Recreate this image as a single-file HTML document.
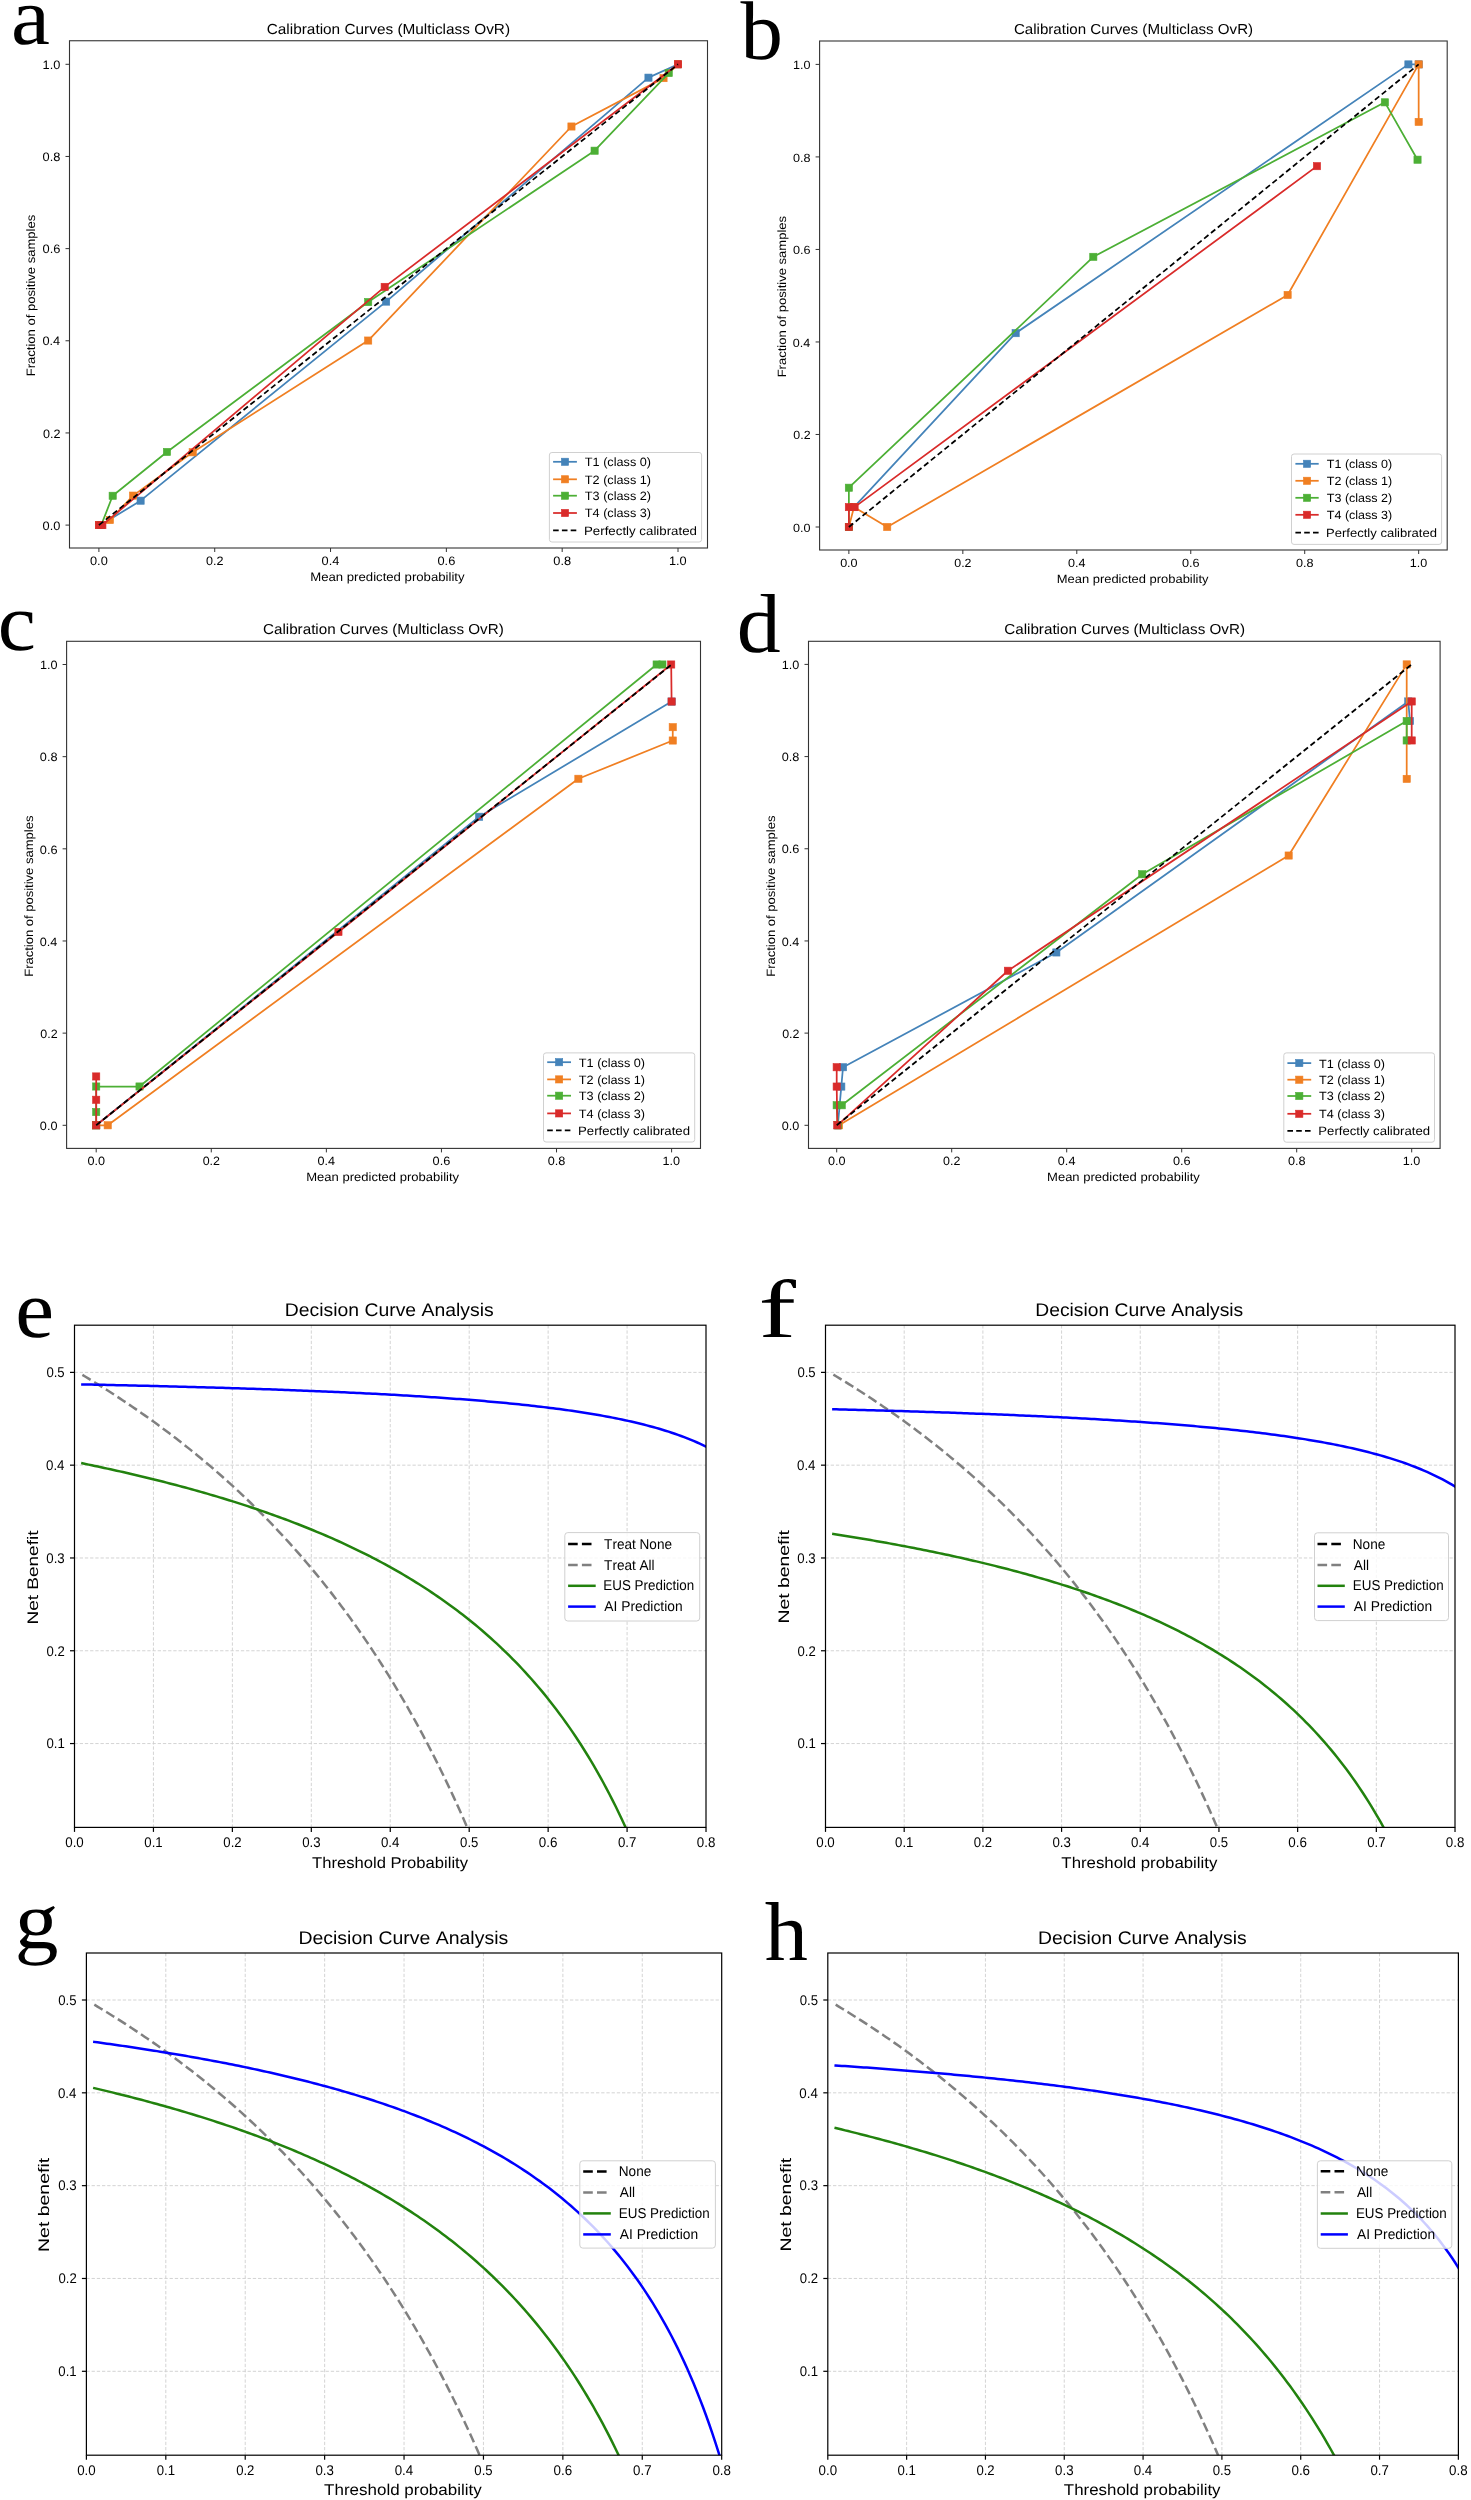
<!DOCTYPE html>
<html><head><meta charset="utf-8"><title>Calibration and Decision Curves</title>
<style>
html,body{margin:0;padding:0;background:#fff;}
body{width:1471px;height:2500px;overflow:hidden;}
svg{display:block;will-change:transform;font-family:"Liberation Sans",sans-serif;font-kerning:none;text-rendering:geometricPrecision;}
</style></head>
<body>
<svg xmlns="http://www.w3.org/2000/svg" width="1471" height="2500" viewBox="0 0 1471 2500">
<rect width="1471" height="2500" fill="#fff"/>
<defs>
<clipPath id="clipa"><rect x="69.5" y="40.75" width="638" height="507.25"/></clipPath>
<clipPath id="clipb"><rect x="819.6" y="41" width="627.6" height="509"/></clipPath>
<clipPath id="clipc"><rect x="66.6" y="641.3" width="633.9" height="507.1"/></clipPath>
<clipPath id="clipd"><rect x="808.5" y="641.3" width="631.6" height="507.1"/></clipPath>
<clipPath id="clipe"><rect x="74.5" y="1325.2" width="631.5" height="502.2"/></clipPath>
<clipPath id="clipf"><rect x="825.5" y="1325.2" width="629.5" height="502.2"/></clipPath>
<clipPath id="clipg"><rect x="86.4" y="1953" width="635.3" height="502.2"/></clipPath>
<clipPath id="cliph"><rect x="827.8" y="1953" width="630.6" height="502.2"/></clipPath>
</defs>
<g clip-path="url(#clipa)">
<polyline points="100.64,525.1 140.6,500.68 386.13,301.61 648.47,77.66 678,64.3" fill="none" stroke="#4483b9" stroke-width="1.75" stroke-linejoin="round"/>
<rect x="97.04" y="521.5" width="7.2" height="7.2" fill="#4483b9" stroke="#4483b9" stroke-width="0.6"/>
<rect x="137" y="497.08" width="7.2" height="7.2" fill="#4483b9" stroke="#4483b9" stroke-width="0.6"/>
<rect x="382.53" y="298.01" width="7.2" height="7.2" fill="#4483b9" stroke="#4483b9" stroke-width="0.6"/>
<rect x="644.87" y="74.06" width="7.2" height="7.2" fill="#4483b9" stroke="#4483b9" stroke-width="0.6"/>
<rect x="674.4" y="60.7" width="7.2" height="7.2" fill="#4483b9" stroke="#4483b9" stroke-width="0.6"/>
<polyline points="98.9,525.1 109.9,520.03 133.07,495.61 192.71,452.29 368.18,340.55 571.45,126.51 663.52,78.12 678,64.3" fill="none" stroke="#f07f22" stroke-width="1.75" stroke-linejoin="round"/>
<rect x="95.3" y="521.5" width="7.2" height="7.2" fill="#f07f22" stroke="#f07f22" stroke-width="0.6"/>
<rect x="106.3" y="516.43" width="7.2" height="7.2" fill="#f07f22" stroke="#f07f22" stroke-width="0.6"/>
<rect x="129.47" y="492.01" width="7.2" height="7.2" fill="#f07f22" stroke="#f07f22" stroke-width="0.6"/>
<rect x="189.11" y="448.69" width="7.2" height="7.2" fill="#f07f22" stroke="#f07f22" stroke-width="0.6"/>
<rect x="364.58" y="336.95" width="7.2" height="7.2" fill="#f07f22" stroke="#f07f22" stroke-width="0.6"/>
<rect x="567.85" y="122.91" width="7.2" height="7.2" fill="#f07f22" stroke="#f07f22" stroke-width="0.6"/>
<rect x="659.92" y="74.52" width="7.2" height="7.2" fill="#f07f22" stroke="#f07f22" stroke-width="0.6"/>
<rect x="674.4" y="60.7" width="7.2" height="7.2" fill="#f07f22" stroke="#f07f22" stroke-width="0.6"/>
<polyline points="101.22,525.1 112.68,495.79 166.94,451.97 368.18,302.07 594.61,150.7 668.73,73.06" fill="none" stroke="#4caf35" stroke-width="1.75" stroke-linejoin="round"/>
<rect x="97.62" y="521.5" width="7.2" height="7.2" fill="#4caf35" stroke="#4caf35" stroke-width="0.6"/>
<rect x="109.08" y="492.19" width="7.2" height="7.2" fill="#4caf35" stroke="#4caf35" stroke-width="0.6"/>
<rect x="163.34" y="448.37" width="7.2" height="7.2" fill="#4caf35" stroke="#4caf35" stroke-width="0.6"/>
<rect x="364.58" y="298.47" width="7.2" height="7.2" fill="#4caf35" stroke="#4caf35" stroke-width="0.6"/>
<rect x="591.01" y="147.1" width="7.2" height="7.2" fill="#4caf35" stroke="#4caf35" stroke-width="0.6"/>
<rect x="665.13" y="69.46" width="7.2" height="7.2" fill="#4caf35" stroke="#4caf35" stroke-width="0.6"/>
<polyline points="98.9,525.1 102.37,525.1 384.69,286.87 678,64.3" fill="none" stroke="#d92b2a" stroke-width="1.75" stroke-linejoin="round"/>
<rect x="95.3" y="521.5" width="7.2" height="7.2" fill="#d92b2a" stroke="#d92b2a" stroke-width="0.6"/>
<rect x="98.77" y="521.5" width="7.2" height="7.2" fill="#d92b2a" stroke="#d92b2a" stroke-width="0.6"/>
<rect x="381.09" y="283.27" width="7.2" height="7.2" fill="#d92b2a" stroke="#d92b2a" stroke-width="0.6"/>
<rect x="674.4" y="60.7" width="7.2" height="7.2" fill="#d92b2a" stroke="#d92b2a" stroke-width="0.6"/>
<polyline points="98.9,525.1 678,64.3" fill="none" stroke="#000" stroke-width="1.75" stroke-linejoin="round" stroke-dasharray="5.6 3.2"/>
</g>
<rect x="69.5" y="40.75" width="638" height="507.25" fill="none" stroke="#333" stroke-width="1.1"/>
<line x1="98.9" y1="548" x2="98.9" y2="552" stroke="#333" stroke-width="1"/>
<text transform="translate(90.01 564.8) scale(1.0488 1)" font-size="12.19" fill="#000">0.0</text>
<line x1="65.5" y1="525.1" x2="69.5" y2="525.1" stroke="#333" stroke-width="1"/>
<text transform="translate(42.57 529.8) scale(1.0488 1)" font-size="12.19" fill="#000">0.0</text>
<line x1="214.72" y1="548" x2="214.72" y2="552" stroke="#333" stroke-width="1"/>
<text transform="translate(206.03 564.8) scale(1.0334 1)" font-size="12.19" fill="#000">0.2</text>
<line x1="65.5" y1="432.94" x2="69.5" y2="432.94" stroke="#333" stroke-width="1"/>
<text transform="translate(42.97 437.64) scale(1.0334 1)" font-size="12.19" fill="#000">0.2</text>
<line x1="330.54" y1="548" x2="330.54" y2="552" stroke="#333" stroke-width="1"/>
<text transform="translate(321.59 564.8) scale(1.0483 1)" font-size="12.19" fill="#000">0.4</text>
<line x1="65.5" y1="340.78" x2="69.5" y2="340.78" stroke="#333" stroke-width="1"/>
<text transform="translate(42.46 345.48) scale(1.0483 1)" font-size="12.19" fill="#000">0.4</text>
<line x1="446.36" y1="548" x2="446.36" y2="552" stroke="#333" stroke-width="1"/>
<text transform="translate(437.45 564.8) scale(1.0551 1)" font-size="12.19" fill="#000">0.6</text>
<line x1="65.5" y1="248.62" x2="69.5" y2="248.62" stroke="#333" stroke-width="1"/>
<text transform="translate(42.53 253.32) scale(1.0551 1)" font-size="12.19" fill="#000">0.6</text>
<line x1="562.18" y1="548" x2="562.18" y2="552" stroke="#333" stroke-width="1"/>
<text transform="translate(553.3 564.8) scale(1.0509 1)" font-size="12.19" fill="#000">0.8</text>
<line x1="65.5" y1="156.46" x2="69.5" y2="156.46" stroke="#333" stroke-width="1"/>
<text transform="translate(42.6 161.16) scale(1.0509 1)" font-size="12.19" fill="#000">0.8</text>
<line x1="678" y1="548" x2="678" y2="552" stroke="#333" stroke-width="1"/>
<text transform="translate(668.89 564.8) scale(1.0468 1)" font-size="12.19" fill="#000">1.0</text>
<line x1="65.5" y1="64.3" x2="69.5" y2="64.3" stroke="#333" stroke-width="1"/>
<text transform="translate(42.61 69) scale(1.0468 1)" font-size="12.19" fill="#000">1.0</text>
<text transform="translate(266.72 34.2) scale(1.0506 1)" font-size="14.63" fill="#000">Calibration Curves (Multiclass OvR)</text>
<text transform="translate(310.22 580.6) scale(1.0797 1)" font-size="12.19" fill="#000">Mean predicted probability</text>
<text transform="translate(35.2 376.27) rotate(-90) scale(1.0690 1)" font-size="12.19" fill="#000">Fraction of positive samples</text>
<rect x="549.4" y="452.5" width="152.2" height="89.5" fill="#fff" stroke="#d0d0d0" stroke-width="1" rx="2.5" fill-opacity="0.8"/>
<line x1="553.1" y1="461.8" x2="576.9" y2="461.8" stroke="#4483b9" stroke-width="1.75"/>
<rect x="561.4" y="458.2" width="7.2" height="7.2" fill="#4483b9" stroke="#4483b9" stroke-width="0.6"/>
<text transform="translate(584.82 466.2) scale(1.0466 1)" font-size="12.12" fill="#000">T1 (class 0)</text>
<line x1="553.1" y1="479.3" x2="576.9" y2="479.3" stroke="#f07f22" stroke-width="1.75"/>
<rect x="561.4" y="475.7" width="7.2" height="7.2" fill="#f07f22" stroke="#f07f22" stroke-width="0.6"/>
<text transform="translate(584.82 483.7) scale(1.0466 1)" font-size="12.12" fill="#000">T2 (class 1)</text>
<line x1="553.1" y1="495.7" x2="576.9" y2="495.7" stroke="#4caf35" stroke-width="1.75"/>
<rect x="561.4" y="492.1" width="7.2" height="7.2" fill="#4caf35" stroke="#4caf35" stroke-width="0.6"/>
<text transform="translate(584.82 500.1) scale(1.0466 1)" font-size="12.12" fill="#000">T3 (class 2)</text>
<line x1="553.1" y1="513" x2="576.9" y2="513" stroke="#d92b2a" stroke-width="1.75"/>
<rect x="561.4" y="509.4" width="7.2" height="7.2" fill="#d92b2a" stroke="#d92b2a" stroke-width="0.6"/>
<text transform="translate(584.82 517.4) scale(1.0466 1)" font-size="12.12" fill="#000">T4 (class 3)</text>
<line x1="553.1" y1="530.4" x2="576.9" y2="530.4" stroke="#000" stroke-width="1.75" stroke-dasharray="5.6 3.2"/>
<text transform="translate(584.01 534.8) scale(1.0965 1)" font-size="12.12" fill="#000">Perfectly calibrated</text>
<g clip-path="url(#clipb)">
<polyline points="854,507.11 1015.65,333.17 1408.41,64.4 1418.67,64.4" fill="none" stroke="#4483b9" stroke-width="1.75" stroke-linejoin="round"/>
<rect x="850.4" y="503.51" width="7.2" height="7.2" fill="#4483b9" stroke="#4483b9" stroke-width="0.6"/>
<rect x="1012.05" y="329.57" width="7.2" height="7.2" fill="#4483b9" stroke="#4483b9" stroke-width="0.6"/>
<rect x="1404.81" y="60.8" width="7.2" height="7.2" fill="#4483b9" stroke="#4483b9" stroke-width="0.6"/>
<rect x="1415.07" y="60.8" width="7.2" height="7.2" fill="#4483b9" stroke="#4483b9" stroke-width="0.6"/>
<polyline points="848.87,527 854,507.11 887.22,527 1287.62,294.96 1418.67,64.4 1418.67,121.9" fill="none" stroke="#f07f22" stroke-width="1.75" stroke-linejoin="round"/>
<rect x="845.27" y="523.4" width="7.2" height="7.2" fill="#f07f22" stroke="#f07f22" stroke-width="0.6"/>
<rect x="850.4" y="503.51" width="7.2" height="7.2" fill="#f07f22" stroke="#f07f22" stroke-width="0.6"/>
<rect x="883.62" y="523.4" width="7.2" height="7.2" fill="#f07f22" stroke="#f07f22" stroke-width="0.6"/>
<rect x="1284.02" y="291.36" width="7.2" height="7.2" fill="#f07f22" stroke="#f07f22" stroke-width="0.6"/>
<rect x="1415.07" y="60.8" width="7.2" height="7.2" fill="#f07f22" stroke="#f07f22" stroke-width="0.6"/>
<rect x="1415.07" y="118.3" width="7.2" height="7.2" fill="#f07f22" stroke="#f07f22" stroke-width="0.6"/>
<polyline points="848.87,527 848.87,487.73 1093.31,256.84 1384.88,102.33 1417.53,159.7" fill="none" stroke="#4caf35" stroke-width="1.75" stroke-linejoin="round"/>
<rect x="845.27" y="523.4" width="7.2" height="7.2" fill="#4caf35" stroke="#4caf35" stroke-width="0.6"/>
<rect x="845.27" y="484.13" width="7.2" height="7.2" fill="#4caf35" stroke="#4caf35" stroke-width="0.6"/>
<rect x="1089.71" y="253.24" width="7.2" height="7.2" fill="#4caf35" stroke="#4caf35" stroke-width="0.6"/>
<rect x="1381.28" y="98.73" width="7.2" height="7.2" fill="#4caf35" stroke="#4caf35" stroke-width="0.6"/>
<rect x="1413.93" y="156.1" width="7.2" height="7.2" fill="#4caf35" stroke="#4caf35" stroke-width="0.6"/>
<polyline points="848.87,527 848.87,507.11 854.57,507.11 1316.96,166.17" fill="none" stroke="#d92b2a" stroke-width="1.75" stroke-linejoin="round"/>
<rect x="845.27" y="523.4" width="7.2" height="7.2" fill="#d92b2a" stroke="#d92b2a" stroke-width="0.6"/>
<rect x="845.27" y="503.51" width="7.2" height="7.2" fill="#d92b2a" stroke="#d92b2a" stroke-width="0.6"/>
<rect x="850.97" y="503.51" width="7.2" height="7.2" fill="#d92b2a" stroke="#d92b2a" stroke-width="0.6"/>
<rect x="1313.36" y="162.57" width="7.2" height="7.2" fill="#d92b2a" stroke="#d92b2a" stroke-width="0.6"/>
<polyline points="848.87,527 1418.67,64.4" fill="none" stroke="#000" stroke-width="1.75" stroke-linejoin="round" stroke-dasharray="5.6 3.2"/>
</g>
<rect x="819.6" y="41" width="627.6" height="509" fill="none" stroke="#333" stroke-width="1.1"/>
<line x1="848.87" y1="550" x2="848.87" y2="554" stroke="#333" stroke-width="1"/>
<text transform="translate(840.13 566.8) scale(1.0488 1)" font-size="11.99" fill="#000">0.0</text>
<line x1="815.6" y1="527" x2="819.6" y2="527" stroke="#333" stroke-width="1"/>
<text transform="translate(792.96 531.7) scale(1.0488 1)" font-size="11.99" fill="#000">0.0</text>
<line x1="962.83" y1="550" x2="962.83" y2="554" stroke="#333" stroke-width="1"/>
<text transform="translate(954.29 566.8) scale(1.0334 1)" font-size="11.99" fill="#000">0.2</text>
<line x1="815.6" y1="434.48" x2="819.6" y2="434.48" stroke="#333" stroke-width="1"/>
<text transform="translate(793.35 439.18) scale(1.0334 1)" font-size="11.99" fill="#000">0.2</text>
<line x1="1076.79" y1="550" x2="1076.79" y2="554" stroke="#333" stroke-width="1"/>
<text transform="translate(1067.99 566.8) scale(1.0483 1)" font-size="11.99" fill="#000">0.4</text>
<line x1="815.6" y1="341.96" x2="819.6" y2="341.96" stroke="#333" stroke-width="1"/>
<text transform="translate(792.84 346.66) scale(1.0483 1)" font-size="11.99" fill="#000">0.4</text>
<line x1="1190.75" y1="550" x2="1190.75" y2="554" stroke="#333" stroke-width="1"/>
<text transform="translate(1181.99 566.8) scale(1.0551 1)" font-size="11.99" fill="#000">0.6</text>
<line x1="815.6" y1="249.44" x2="819.6" y2="249.44" stroke="#333" stroke-width="1"/>
<text transform="translate(792.92 254.14) scale(1.0551 1)" font-size="11.99" fill="#000">0.6</text>
<line x1="1304.71" y1="550" x2="1304.71" y2="554" stroke="#333" stroke-width="1"/>
<text transform="translate(1295.98 566.8) scale(1.0509 1)" font-size="11.99" fill="#000">0.8</text>
<line x1="815.6" y1="156.92" x2="819.6" y2="156.92" stroke="#333" stroke-width="1"/>
<text transform="translate(792.98 161.62) scale(1.0509 1)" font-size="11.99" fill="#000">0.8</text>
<line x1="1418.67" y1="550" x2="1418.67" y2="554" stroke="#333" stroke-width="1"/>
<text transform="translate(1409.71 566.8) scale(1.0468 1)" font-size="11.99" fill="#000">1.0</text>
<line x1="815.6" y1="64.4" x2="819.6" y2="64.4" stroke="#333" stroke-width="1"/>
<text transform="translate(792.99 69.1) scale(1.0468 1)" font-size="11.99" fill="#000">1.0</text>
<text transform="translate(1013.93 33.9) scale(1.0506 1)" font-size="14.39" fill="#000">Calibration Curves (Multiclass OvR)</text>
<text transform="translate(1056.74 583.4) scale(1.0800 1)" font-size="11.99" fill="#000">Mean predicted probability</text>
<text transform="translate(786.2 377.37) rotate(-90) scale(1.0870 1)" font-size="11.99" fill="#000">Fraction of positive samples</text>
<rect x="1291.5" y="454" width="150.1" height="90.4" fill="#fff" stroke="#d0d0d0" stroke-width="1" rx="2.5" fill-opacity="0.8"/>
<line x1="1295.4" y1="463.8" x2="1318.7" y2="463.8" stroke="#4483b9" stroke-width="1.75"/>
<rect x="1303.45" y="460.2" width="7.2" height="7.2" fill="#4483b9" stroke="#4483b9" stroke-width="0.6"/>
<text transform="translate(1326.82 468.2) scale(1.0466 1)" font-size="11.96" fill="#000">T1 (class 0)</text>
<line x1="1295.4" y1="480.8" x2="1318.7" y2="480.8" stroke="#f07f22" stroke-width="1.75"/>
<rect x="1303.45" y="477.2" width="7.2" height="7.2" fill="#f07f22" stroke="#f07f22" stroke-width="0.6"/>
<text transform="translate(1326.82 485.2) scale(1.0466 1)" font-size="11.96" fill="#000">T2 (class 1)</text>
<line x1="1295.4" y1="497.8" x2="1318.7" y2="497.8" stroke="#4caf35" stroke-width="1.75"/>
<rect x="1303.45" y="494.2" width="7.2" height="7.2" fill="#4caf35" stroke="#4caf35" stroke-width="0.6"/>
<text transform="translate(1326.82 502.2) scale(1.0466 1)" font-size="11.96" fill="#000">T3 (class 2)</text>
<line x1="1295.4" y1="514.8" x2="1318.7" y2="514.8" stroke="#d92b2a" stroke-width="1.75"/>
<rect x="1303.45" y="511.2" width="7.2" height="7.2" fill="#d92b2a" stroke="#d92b2a" stroke-width="0.6"/>
<text transform="translate(1326.82 519.2) scale(1.0466 1)" font-size="11.96" fill="#000">T4 (class 3)</text>
<line x1="1295.4" y1="532.5" x2="1318.7" y2="532.5" stroke="#000" stroke-width="1.75" stroke-dasharray="5.6 3.2"/>
<text transform="translate(1326.03 536.9) scale(1.0909 1)" font-size="11.96" fill="#000">Perfectly calibrated</text>
<g clip-path="url(#clipc)">
<polyline points="96.2,1125.3 479.13,816.75 671.6,701.55" fill="none" stroke="#4483b9" stroke-width="1.75" stroke-linejoin="round"/>
<rect x="92.6" y="1121.7" width="7.2" height="7.2" fill="#4483b9" stroke="#4483b9" stroke-width="0.6"/>
<rect x="475.53" y="813.15" width="7.2" height="7.2" fill="#4483b9" stroke="#4483b9" stroke-width="0.6"/>
<rect x="668" y="697.95" width="7.2" height="7.2" fill="#4483b9" stroke="#4483b9" stroke-width="0.6"/>
<polyline points="96.2,1125.3 107.71,1125.3 578.39,778.78 672.75,740.53 672.75,727.17" fill="none" stroke="#f07f22" stroke-width="1.75" stroke-linejoin="round"/>
<rect x="92.6" y="1121.7" width="7.2" height="7.2" fill="#f07f22" stroke="#f07f22" stroke-width="0.6"/>
<rect x="104.11" y="1121.7" width="7.2" height="7.2" fill="#f07f22" stroke="#f07f22" stroke-width="0.6"/>
<rect x="574.79" y="775.18" width="7.2" height="7.2" fill="#f07f22" stroke="#f07f22" stroke-width="0.6"/>
<rect x="669.15" y="736.93" width="7.2" height="7.2" fill="#f07f22" stroke="#f07f22" stroke-width="0.6"/>
<rect x="669.15" y="723.57" width="7.2" height="7.2" fill="#f07f22" stroke="#f07f22" stroke-width="0.6"/>
<polyline points="96.2,1125.3 96.2,1112.03 96.2,1086.5 139.53,1086.5 656.64,664.5 662.39,664.5" fill="none" stroke="#4caf35" stroke-width="1.75" stroke-linejoin="round"/>
<rect x="92.6" y="1121.7" width="7.2" height="7.2" fill="#4caf35" stroke="#4caf35" stroke-width="0.6"/>
<rect x="92.6" y="1108.43" width="7.2" height="7.2" fill="#4caf35" stroke="#4caf35" stroke-width="0.6"/>
<rect x="92.6" y="1082.9" width="7.2" height="7.2" fill="#4caf35" stroke="#4caf35" stroke-width="0.6"/>
<rect x="135.93" y="1082.9" width="7.2" height="7.2" fill="#4caf35" stroke="#4caf35" stroke-width="0.6"/>
<rect x="653.04" y="660.9" width="7.2" height="7.2" fill="#4caf35" stroke="#4caf35" stroke-width="0.6"/>
<rect x="658.79" y="660.9" width="7.2" height="7.2" fill="#4caf35" stroke="#4caf35" stroke-width="0.6"/>
<polyline points="96.2,1076.46 96.2,1099.77 96.2,1125.3 338.44,931.95 671.2,664.5 671.6,701.55" fill="none" stroke="#d92b2a" stroke-width="1.75" stroke-linejoin="round"/>
<rect x="92.6" y="1072.86" width="7.2" height="7.2" fill="#d92b2a" stroke="#d92b2a" stroke-width="0.6"/>
<rect x="92.6" y="1096.17" width="7.2" height="7.2" fill="#d92b2a" stroke="#d92b2a" stroke-width="0.6"/>
<rect x="92.6" y="1121.7" width="7.2" height="7.2" fill="#d92b2a" stroke="#d92b2a" stroke-width="0.6"/>
<rect x="334.84" y="928.35" width="7.2" height="7.2" fill="#d92b2a" stroke="#d92b2a" stroke-width="0.6"/>
<rect x="667.6" y="660.9" width="7.2" height="7.2" fill="#d92b2a" stroke="#d92b2a" stroke-width="0.6"/>
<rect x="668" y="697.95" width="7.2" height="7.2" fill="#d92b2a" stroke="#d92b2a" stroke-width="0.6"/>
<polyline points="96.2,1125.3 671.6,664.5" fill="none" stroke="#000" stroke-width="1.75" stroke-linejoin="round" stroke-dasharray="5.6 3.2"/>
</g>
<rect x="66.6" y="641.3" width="633.9" height="507.1" fill="none" stroke="#333" stroke-width="1.1"/>
<line x1="96.2" y1="1148.4" x2="96.2" y2="1152.4" stroke="#333" stroke-width="1"/>
<text transform="translate(87.4 1165.2) scale(1.0488 1)" font-size="12.07" fill="#000">0.0</text>
<line x1="62.6" y1="1125.3" x2="66.6" y2="1125.3" stroke="#333" stroke-width="1"/>
<text transform="translate(39.85 1130) scale(1.0488 1)" font-size="12.07" fill="#000">0.0</text>
<line x1="211.28" y1="1148.4" x2="211.28" y2="1152.4" stroke="#333" stroke-width="1"/>
<text transform="translate(202.68 1165.2) scale(1.0334 1)" font-size="12.07" fill="#000">0.2</text>
<line x1="62.6" y1="1033.14" x2="66.6" y2="1033.14" stroke="#333" stroke-width="1"/>
<text transform="translate(40.24 1037.84) scale(1.0334 1)" font-size="12.07" fill="#000">0.2</text>
<line x1="326.36" y1="1148.4" x2="326.36" y2="1152.4" stroke="#333" stroke-width="1"/>
<text transform="translate(317.5 1165.2) scale(1.0483 1)" font-size="12.07" fill="#000">0.4</text>
<line x1="62.6" y1="940.98" x2="66.6" y2="940.98" stroke="#333" stroke-width="1"/>
<text transform="translate(39.73 945.68) scale(1.0483 1)" font-size="12.07" fill="#000">0.4</text>
<line x1="441.44" y1="1148.4" x2="441.44" y2="1152.4" stroke="#333" stroke-width="1"/>
<text transform="translate(432.62 1165.2) scale(1.0551 1)" font-size="12.07" fill="#000">0.6</text>
<line x1="62.6" y1="848.82" x2="66.6" y2="848.82" stroke="#333" stroke-width="1"/>
<text transform="translate(39.81 853.52) scale(1.0551 1)" font-size="12.07" fill="#000">0.6</text>
<line x1="556.52" y1="1148.4" x2="556.52" y2="1152.4" stroke="#333" stroke-width="1"/>
<text transform="translate(547.73 1165.2) scale(1.0509 1)" font-size="12.07" fill="#000">0.8</text>
<line x1="62.6" y1="756.66" x2="66.6" y2="756.66" stroke="#333" stroke-width="1"/>
<text transform="translate(39.87 761.36) scale(1.0509 1)" font-size="12.07" fill="#000">0.8</text>
<line x1="671.6" y1="1148.4" x2="671.6" y2="1152.4" stroke="#333" stroke-width="1"/>
<text transform="translate(662.58 1165.2) scale(1.0468 1)" font-size="12.07" fill="#000">1.0</text>
<line x1="62.6" y1="664.5" x2="66.6" y2="664.5" stroke="#333" stroke-width="1"/>
<text transform="translate(39.88 669.2) scale(1.0468 1)" font-size="12.07" fill="#000">1.0</text>
<text transform="translate(262.98 634.4) scale(1.0506 1)" font-size="14.48" fill="#000">Calibration Curves (Multiclass OvR)</text>
<text transform="translate(306.13 1181.4) scale(1.0815 1)" font-size="12.07" fill="#000">Mean predicted probability</text>
<text transform="translate(33 976.77) rotate(-90) scale(1.0779 1)" font-size="12.07" fill="#000">Fraction of positive samples</text>
<rect x="543.5" y="1052.9" width="151.2" height="89.1" fill="#fff" stroke="#d0d0d0" stroke-width="1" rx="2.5" fill-opacity="0.8"/>
<line x1="547.2" y1="1062.2" x2="571" y2="1062.2" stroke="#4483b9" stroke-width="1.75"/>
<rect x="555.5" y="1058.6" width="7.2" height="7.2" fill="#4483b9" stroke="#4483b9" stroke-width="0.6"/>
<text transform="translate(578.81 1066.6) scale(1.0466 1)" font-size="12.14" fill="#000">T1 (class 0)</text>
<line x1="547.2" y1="1079.4" x2="571" y2="1079.4" stroke="#f07f22" stroke-width="1.75"/>
<rect x="555.5" y="1075.8" width="7.2" height="7.2" fill="#f07f22" stroke="#f07f22" stroke-width="0.6"/>
<text transform="translate(578.81 1083.8) scale(1.0466 1)" font-size="12.14" fill="#000">T2 (class 1)</text>
<line x1="547.2" y1="1095.7" x2="571" y2="1095.7" stroke="#4caf35" stroke-width="1.75"/>
<rect x="555.5" y="1092.1" width="7.2" height="7.2" fill="#4caf35" stroke="#4caf35" stroke-width="0.6"/>
<text transform="translate(578.81 1100.1) scale(1.0466 1)" font-size="12.14" fill="#000">T3 (class 2)</text>
<line x1="547.2" y1="1113.4" x2="571" y2="1113.4" stroke="#d92b2a" stroke-width="1.75"/>
<rect x="555.5" y="1109.8" width="7.2" height="7.2" fill="#d92b2a" stroke="#d92b2a" stroke-width="0.6"/>
<text transform="translate(578.81 1117.8) scale(1.0466 1)" font-size="12.14" fill="#000">T4 (class 3)</text>
<line x1="547.2" y1="1130.4" x2="571" y2="1130.4" stroke="#000" stroke-width="1.75" stroke-dasharray="5.6 3.2"/>
<text transform="translate(578.02 1134.8) scale(1.0860 1)" font-size="12.14" fill="#000">Perfectly calibrated</text>
<g clip-path="url(#clipd)">
<polyline points="837.85,1125.3 841.3,1086.58 843.03,1067.23 1056.35,952.46 1408.25,701.46 1409.97,721.09" fill="none" stroke="#4483b9" stroke-width="1.75" stroke-linejoin="round"/>
<rect x="834.25" y="1121.7" width="7.2" height="7.2" fill="#4483b9" stroke="#4483b9" stroke-width="0.6"/>
<rect x="837.7" y="1082.98" width="7.2" height="7.2" fill="#4483b9" stroke="#4483b9" stroke-width="0.6"/>
<rect x="839.43" y="1063.63" width="7.2" height="7.2" fill="#4483b9" stroke="#4483b9" stroke-width="0.6"/>
<rect x="1052.75" y="948.86" width="7.2" height="7.2" fill="#4483b9" stroke="#4483b9" stroke-width="0.6"/>
<rect x="1404.65" y="697.86" width="7.2" height="7.2" fill="#4483b9" stroke="#4483b9" stroke-width="0.6"/>
<rect x="1406.38" y="717.49" width="7.2" height="7.2" fill="#4483b9" stroke="#4483b9" stroke-width="0.6"/>
<polyline points="839,1125.3 1288.65,855.54 1406.7,664.4 1406.7,778.89" fill="none" stroke="#f07f22" stroke-width="1.75" stroke-linejoin="round"/>
<rect x="835.4" y="1121.7" width="7.2" height="7.2" fill="#f07f22" stroke="#f07f22" stroke-width="0.6"/>
<rect x="1285.05" y="851.94" width="7.2" height="7.2" fill="#f07f22" stroke="#f07f22" stroke-width="0.6"/>
<rect x="1403.1" y="660.8" width="7.2" height="7.2" fill="#f07f22" stroke="#f07f22" stroke-width="0.6"/>
<rect x="1403.1" y="775.29" width="7.2" height="7.2" fill="#f07f22" stroke="#f07f22" stroke-width="0.6"/>
<polyline points="837.85,1125.3 836.7,1105.25 841.7,1105.25 1142.26,874.29 1406.7,721.09 1406.7,740.45" fill="none" stroke="#4caf35" stroke-width="1.75" stroke-linejoin="round"/>
<rect x="834.25" y="1121.7" width="7.2" height="7.2" fill="#4caf35" stroke="#4caf35" stroke-width="0.6"/>
<rect x="833.1" y="1101.65" width="7.2" height="7.2" fill="#4caf35" stroke="#4caf35" stroke-width="0.6"/>
<rect x="838.1" y="1101.65" width="7.2" height="7.2" fill="#4caf35" stroke="#4caf35" stroke-width="0.6"/>
<rect x="1138.66" y="870.69" width="7.2" height="7.2" fill="#4caf35" stroke="#4caf35" stroke-width="0.6"/>
<rect x="1403.1" y="717.49" width="7.2" height="7.2" fill="#4caf35" stroke="#4caf35" stroke-width="0.6"/>
<rect x="1403.1" y="736.85" width="7.2" height="7.2" fill="#4caf35" stroke="#4caf35" stroke-width="0.6"/>
<polyline points="836.7,1067.23 836.7,1086.58 837.28,1125.3 1007.94,970.76 1411.7,701.46 1411.7,740.45" fill="none" stroke="#d92b2a" stroke-width="1.75" stroke-linejoin="round"/>
<rect x="833.1" y="1063.63" width="7.2" height="7.2" fill="#d92b2a" stroke="#d92b2a" stroke-width="0.6"/>
<rect x="833.1" y="1082.98" width="7.2" height="7.2" fill="#d92b2a" stroke="#d92b2a" stroke-width="0.6"/>
<rect x="833.68" y="1121.7" width="7.2" height="7.2" fill="#d92b2a" stroke="#d92b2a" stroke-width="0.6"/>
<rect x="1004.34" y="967.16" width="7.2" height="7.2" fill="#d92b2a" stroke="#d92b2a" stroke-width="0.6"/>
<rect x="1408.1" y="697.86" width="7.2" height="7.2" fill="#d92b2a" stroke="#d92b2a" stroke-width="0.6"/>
<rect x="1408.1" y="736.85" width="7.2" height="7.2" fill="#d92b2a" stroke="#d92b2a" stroke-width="0.6"/>
<polyline points="836.7,1125.3 1411.7,664.4" fill="none" stroke="#000" stroke-width="1.75" stroke-linejoin="round" stroke-dasharray="5.6 3.2"/>
</g>
<rect x="808.5" y="641.3" width="631.6" height="507.1" fill="none" stroke="#333" stroke-width="1.1"/>
<line x1="836.7" y1="1148.4" x2="836.7" y2="1152.4" stroke="#333" stroke-width="1"/>
<text transform="translate(827.9 1165.2) scale(1.0488 1)" font-size="12.07" fill="#000">0.0</text>
<line x1="804.5" y1="1125.3" x2="808.5" y2="1125.3" stroke="#333" stroke-width="1"/>
<text transform="translate(781.75 1130) scale(1.0488 1)" font-size="12.07" fill="#000">0.0</text>
<line x1="951.7" y1="1148.4" x2="951.7" y2="1152.4" stroke="#333" stroke-width="1"/>
<text transform="translate(943.1 1165.2) scale(1.0334 1)" font-size="12.07" fill="#000">0.2</text>
<line x1="804.5" y1="1033.12" x2="808.5" y2="1033.12" stroke="#333" stroke-width="1"/>
<text transform="translate(782.14 1037.82) scale(1.0334 1)" font-size="12.07" fill="#000">0.2</text>
<line x1="1066.7" y1="1148.4" x2="1066.7" y2="1152.4" stroke="#333" stroke-width="1"/>
<text transform="translate(1057.84 1165.2) scale(1.0483 1)" font-size="12.07" fill="#000">0.4</text>
<line x1="804.5" y1="940.94" x2="808.5" y2="940.94" stroke="#333" stroke-width="1"/>
<text transform="translate(781.63 945.64) scale(1.0483 1)" font-size="12.07" fill="#000">0.4</text>
<line x1="1181.7" y1="1148.4" x2="1181.7" y2="1152.4" stroke="#333" stroke-width="1"/>
<text transform="translate(1172.88 1165.2) scale(1.0551 1)" font-size="12.07" fill="#000">0.6</text>
<line x1="804.5" y1="848.76" x2="808.5" y2="848.76" stroke="#333" stroke-width="1"/>
<text transform="translate(781.71 853.46) scale(1.0551 1)" font-size="12.07" fill="#000">0.6</text>
<line x1="1296.7" y1="1148.4" x2="1296.7" y2="1152.4" stroke="#333" stroke-width="1"/>
<text transform="translate(1287.91 1165.2) scale(1.0509 1)" font-size="12.07" fill="#000">0.8</text>
<line x1="804.5" y1="756.58" x2="808.5" y2="756.58" stroke="#333" stroke-width="1"/>
<text transform="translate(781.77 761.28) scale(1.0509 1)" font-size="12.07" fill="#000">0.8</text>
<line x1="1411.7" y1="1148.4" x2="1411.7" y2="1152.4" stroke="#333" stroke-width="1"/>
<text transform="translate(1402.68 1165.2) scale(1.0468 1)" font-size="12.07" fill="#000">1.0</text>
<line x1="804.5" y1="664.4" x2="808.5" y2="664.4" stroke="#333" stroke-width="1"/>
<text transform="translate(781.78 669.1) scale(1.0468 1)" font-size="12.07" fill="#000">1.0</text>
<text transform="translate(1004.23 634.3) scale(1.0506 1)" font-size="14.48" fill="#000">Calibration Curves (Multiclass OvR)</text>
<text transform="translate(1047.03 1181.4) scale(1.0801 1)" font-size="12.07" fill="#000">Mean predicted probability</text>
<text transform="translate(775.2 976.77) rotate(-90) scale(1.0779 1)" font-size="12.07" fill="#000">Fraction of positive samples</text>
<rect x="1283.8" y="1052.9" width="150.7" height="89.3" fill="#fff" stroke="#d0d0d0" stroke-width="1" rx="2.5" fill-opacity="0.8"/>
<line x1="1287.4" y1="1063.1" x2="1311.2" y2="1063.1" stroke="#4483b9" stroke-width="1.75"/>
<rect x="1295.7" y="1059.5" width="7.2" height="7.2" fill="#4483b9" stroke="#4483b9" stroke-width="0.6"/>
<text transform="translate(1319.12 1067.5) scale(1.0466 1)" font-size="12.05" fill="#000">T1 (class 0)</text>
<line x1="1287.4" y1="1079.7" x2="1311.2" y2="1079.7" stroke="#f07f22" stroke-width="1.75"/>
<rect x="1295.7" y="1076.1" width="7.2" height="7.2" fill="#f07f22" stroke="#f07f22" stroke-width="0.6"/>
<text transform="translate(1319.12 1084.1) scale(1.0466 1)" font-size="12.05" fill="#000">T2 (class 1)</text>
<line x1="1287.4" y1="1096" x2="1311.2" y2="1096" stroke="#4caf35" stroke-width="1.75"/>
<rect x="1295.7" y="1092.4" width="7.2" height="7.2" fill="#4caf35" stroke="#4caf35" stroke-width="0.6"/>
<text transform="translate(1319.12 1100.4) scale(1.0466 1)" font-size="12.05" fill="#000">T3 (class 2)</text>
<line x1="1287.4" y1="1113.8" x2="1311.2" y2="1113.8" stroke="#d92b2a" stroke-width="1.75"/>
<rect x="1295.7" y="1110.2" width="7.2" height="7.2" fill="#d92b2a" stroke="#d92b2a" stroke-width="0.6"/>
<text transform="translate(1319.12 1118.2) scale(1.0466 1)" font-size="12.05" fill="#000">T4 (class 3)</text>
<line x1="1287.4" y1="1130.8" x2="1311.2" y2="1130.8" stroke="#000" stroke-width="1.75" stroke-dasharray="5.6 3.2"/>
<text transform="translate(1318.32 1135.2) scale(1.0904 1)" font-size="12.05" fill="#000">Perfectly calibrated</text>
<line x1="153.44" y1="1325.2" x2="153.44" y2="1827.4" stroke="#cfcfcf" stroke-width="0.9" stroke-dasharray="3.3 1.9"/>
<line x1="232.38" y1="1325.2" x2="232.38" y2="1827.4" stroke="#cfcfcf" stroke-width="0.9" stroke-dasharray="3.3 1.9"/>
<line x1="311.32" y1="1325.2" x2="311.32" y2="1827.4" stroke="#cfcfcf" stroke-width="0.9" stroke-dasharray="3.3 1.9"/>
<line x1="390.26" y1="1325.2" x2="390.26" y2="1827.4" stroke="#cfcfcf" stroke-width="0.9" stroke-dasharray="3.3 1.9"/>
<line x1="469.2" y1="1325.2" x2="469.2" y2="1827.4" stroke="#cfcfcf" stroke-width="0.9" stroke-dasharray="3.3 1.9"/>
<line x1="548.14" y1="1325.2" x2="548.14" y2="1827.4" stroke="#cfcfcf" stroke-width="0.9" stroke-dasharray="3.3 1.9"/>
<line x1="627.08" y1="1325.2" x2="627.08" y2="1827.4" stroke="#cfcfcf" stroke-width="0.9" stroke-dasharray="3.3 1.9"/>
<line x1="74.5" y1="1743.56" x2="706" y2="1743.56" stroke="#cfcfcf" stroke-width="0.9" stroke-dasharray="3.3 1.9"/>
<line x1="74.5" y1="1650.76" x2="706" y2="1650.76" stroke="#cfcfcf" stroke-width="0.9" stroke-dasharray="3.3 1.9"/>
<line x1="74.5" y1="1557.97" x2="706" y2="1557.97" stroke="#cfcfcf" stroke-width="0.9" stroke-dasharray="3.3 1.9"/>
<line x1="74.5" y1="1465.17" x2="706" y2="1465.17" stroke="#cfcfcf" stroke-width="0.9" stroke-dasharray="3.3 1.9"/>
<line x1="74.5" y1="1372.38" x2="706" y2="1372.38" stroke="#cfcfcf" stroke-width="0.9" stroke-dasharray="3.3 1.9"/>
<g clip-path="url(#clipe)">
<polyline points="82.39,1374.91 85.51,1376.78 88.63,1378.66 91.75,1380.56 94.87,1382.48 97.98,1384.41 101.1,1386.35 104.22,1388.31 107.34,1390.29 110.46,1392.29 113.58,1394.3 116.69,1396.33 119.81,1398.37 122.93,1400.43 126.05,1402.51 129.17,1404.61 132.28,1406.72 135.4,1408.86 138.52,1411.01 141.64,1413.18 144.76,1415.37 147.87,1417.57 150.99,1419.8 154.11,1422.05 157.23,1424.31 160.35,1426.6 163.47,1428.91 166.58,1431.23 169.7,1433.58 172.82,1435.95 175.94,1438.34 179.06,1440.76 182.17,1443.19 185.29,1445.65 188.41,1448.13 191.53,1450.63 194.65,1453.16 197.76,1455.71 200.88,1458.28 204,1460.88 207.12,1463.5 210.24,1466.15 213.36,1468.82 216.47,1471.52 219.59,1474.25 222.71,1477 225.83,1479.78 228.95,1482.58 232.06,1485.42 235.18,1488.28 238.3,1491.17 241.42,1494.09 244.54,1497.04 247.65,1500.02 250.77,1503.02 253.89,1506.06 257.01,1509.13 260.13,1512.24 263.25,1515.37 266.36,1518.54 269.48,1521.74 272.6,1524.97 275.72,1528.24 278.84,1531.55 281.95,1534.88 285.07,1538.26 288.19,1541.67 291.31,1545.12 294.43,1548.61 297.54,1552.13 300.66,1555.69 303.78,1559.3 306.9,1562.94 310.02,1566.63 313.14,1570.35 316.25,1574.12 319.37,1577.93 322.49,1581.79 325.61,1585.69 328.73,1589.64 331.84,1593.63 334.96,1597.67 338.08,1601.76 341.2,1605.89 344.32,1610.08 347.44,1614.31 350.55,1618.6 353.67,1622.94 356.79,1627.34 359.91,1631.78 363.03,1636.29 366.14,1640.85 369.26,1645.46 372.38,1650.14 375.5,1654.87 378.62,1659.67 381.73,1664.53 384.85,1669.45 387.97,1674.44 391.09,1679.49 394.21,1684.61 397.33,1689.8 400.44,1695.05 403.56,1700.38 406.68,1705.78 409.8,1711.26 412.92,1716.81 416.03,1722.44 419.15,1728.14 422.27,1733.93 425.39,1739.8 428.51,1745.76 431.62,1751.8 434.74,1757.92 437.86,1764.14 440.98,1770.45 444.1,1776.85 447.22,1783.35 450.33,1789.95 453.45,1796.65 456.57,1803.45 459.69,1810.35 462.81,1817.36 465.92,1824.48 469.04,1831.72 472.16,1839.07 475.28,1846.53 478.4,1854.12 481.51,1861.83 484.63,1869.67 487.75,1877.64" fill="none" stroke="#808080" stroke-width="2.5" stroke-linejoin="round" stroke-dasharray="9.6 4.2"/>
<polyline points="82.39,1463.34 85.51,1463.98 88.63,1464.62 91.75,1465.27 94.87,1465.93 97.98,1466.59 101.1,1467.26 104.22,1467.93 107.34,1468.61 110.46,1469.29 113.58,1469.98 116.69,1470.67 119.81,1471.37 122.93,1472.08 126.05,1472.79 129.17,1473.51 132.28,1474.23 135.4,1474.96 138.52,1475.7 141.64,1476.44 144.76,1477.19 147.87,1477.95 150.99,1478.71 154.11,1479.48 157.23,1480.25 160.35,1481.04 163.47,1481.83 166.58,1482.62 169.7,1483.43 172.82,1484.24 175.94,1485.06 179.06,1485.88 182.17,1486.72 185.29,1487.56 188.41,1488.41 191.53,1489.26 194.65,1490.13 197.76,1491 200.88,1491.88 204,1492.77 207.12,1493.67 210.24,1494.58 213.36,1495.49 216.47,1496.42 219.59,1497.35 222.71,1498.29 225.83,1499.24 228.95,1500.2 232.06,1501.17 235.18,1502.15 238.3,1503.14 241.42,1504.14 244.54,1505.15 247.65,1506.17 250.77,1507.2 253.89,1508.24 257.01,1509.29 260.13,1510.36 263.25,1511.43 266.36,1512.51 269.48,1513.61 272.6,1514.72 275.72,1515.84 278.84,1516.97 281.95,1518.11 285.07,1519.27 288.19,1520.43 291.31,1521.61 294.43,1522.81 297.54,1524.01 300.66,1525.23 303.78,1526.47 306.9,1527.72 310.02,1528.98 313.14,1530.25 316.25,1531.54 319.37,1532.85 322.49,1534.17 325.61,1535.5 328.73,1536.86 331.84,1538.22 334.96,1539.61 338.08,1541 341.2,1542.42 344.32,1543.85 347.44,1545.3 350.55,1546.77 353.67,1548.26 356.79,1549.76 359.91,1551.29 363.03,1552.83 366.14,1554.39 369.26,1555.97 372.38,1557.57 375.5,1559.19 378.62,1560.83 381.73,1562.5 384.85,1564.18 387.97,1565.89 391.09,1567.62 394.21,1569.37 397.33,1571.15 400.44,1572.95 403.56,1574.77 406.68,1576.62 409.8,1578.5 412.92,1580.4 416.03,1582.32 419.15,1584.28 422.27,1586.26 425.39,1588.27 428.51,1590.31 431.62,1592.37 434.74,1594.47 437.86,1596.6 440.98,1598.76 444.1,1600.95 447.22,1603.18 450.33,1605.44 453.45,1607.73 456.57,1610.06 459.69,1612.42 462.81,1614.82 465.92,1617.26 469.04,1619.74 472.16,1622.25 475.28,1624.81 478.4,1627.41 481.51,1630.05 484.63,1632.73 487.75,1635.46 490.87,1638.23 493.99,1641.06 497.11,1643.92 500.22,1646.84 503.34,1649.81 506.46,1652.83 509.58,1655.9 512.7,1659.03 515.81,1662.21 518.93,1665.46 522.05,1668.76 525.17,1672.12 528.29,1675.54 531.4,1679.03 534.52,1682.58 537.64,1686.2 540.76,1689.9 543.88,1693.66 547,1697.5 550.11,1701.41 553.23,1705.4 556.35,1709.48 559.47,1713.63 562.59,1717.88 565.7,1722.21 568.82,1726.63 571.94,1731.15 575.06,1735.77 578.18,1740.48 581.29,1745.3 584.41,1750.23 587.53,1755.27 590.65,1760.42 593.77,1765.7 596.89,1771.09 600,1776.62 603.12,1782.27 606.24,1788.06 609.36,1794 612.48,1800.08 615.59,1806.31 618.71,1812.71 621.83,1819.26 624.95,1825.99 628.07,1832.9 631.18,1839.99 634.3,1847.28 637.42,1854.76 640.54,1862.46 643.66,1870.37 646.78,1878.51" fill="none" stroke="#22820e" stroke-width="2.5" stroke-linejoin="round" stroke-linecap="square"/>
<polyline points="82.39,1384.42 85.51,1384.48 88.63,1384.54 91.75,1384.61 94.87,1384.67 97.98,1384.74 101.1,1384.8 104.22,1384.87 107.34,1384.93 110.46,1385 113.58,1385.07 116.69,1385.14 119.81,1385.21 122.93,1385.28 126.05,1385.35 129.17,1385.42 132.28,1385.49 135.4,1385.56 138.52,1385.63 141.64,1385.71 144.76,1385.78 147.87,1385.86 150.99,1385.93 154.11,1386.01 157.23,1386.08 160.35,1386.16 163.47,1386.24 166.58,1386.32 169.7,1386.4 172.82,1386.48 175.94,1386.56 179.06,1386.64 182.17,1386.72 185.29,1386.8 188.41,1386.89 191.53,1386.97 194.65,1387.06 197.76,1387.14 200.88,1387.23 204,1387.32 207.12,1387.41 210.24,1387.5 213.36,1387.59 216.47,1387.68 219.59,1387.77 222.71,1387.86 225.83,1387.96 228.95,1388.05 232.06,1388.15 235.18,1388.24 238.3,1388.34 241.42,1388.44 244.54,1388.54 247.65,1388.64 250.77,1388.74 253.89,1388.84 257.01,1388.95 260.13,1389.05 263.25,1389.16 266.36,1389.26 269.48,1389.37 272.6,1389.48 275.72,1389.59 278.84,1389.7 281.95,1389.82 285.07,1389.93 288.19,1390.04 291.31,1390.16 294.43,1390.28 297.54,1390.4 300.66,1390.52 303.78,1390.64 306.9,1390.76 310.02,1390.89 313.14,1391.01 316.25,1391.14 319.37,1391.27 322.49,1391.4 325.61,1391.53 328.73,1391.66 331.84,1391.8 334.96,1391.93 338.08,1392.07 341.2,1392.21 344.32,1392.35 347.44,1392.5 350.55,1392.64 353.67,1392.79 356.79,1392.94 359.91,1393.09 363.03,1393.24 366.14,1393.39 369.26,1393.55 372.38,1393.71 375.5,1393.87 378.62,1394.03 381.73,1394.19 384.85,1394.36 387.97,1394.53 391.09,1394.7 394.21,1394.87 397.33,1395.04 400.44,1395.22 403.56,1395.4 406.68,1395.58 409.8,1395.77 412.92,1395.96 416.03,1396.15 419.15,1396.34 422.27,1396.53 425.39,1396.73 428.51,1396.93 431.62,1397.14 434.74,1397.34 437.86,1397.55 440.98,1397.77 444.1,1397.98 447.22,1398.2 450.33,1398.42 453.45,1398.65 456.57,1398.88 459.69,1399.11 462.81,1399.35 465.92,1399.59 469.04,1399.83 472.16,1400.08 475.28,1400.33 478.4,1400.59 481.51,1400.85 484.63,1401.12 487.75,1401.39 490.87,1401.66 493.99,1401.94 497.11,1402.22 500.22,1402.51 503.34,1402.8 506.46,1403.1 509.58,1403.4 512.7,1403.71 515.81,1404.02 518.93,1404.34 522.05,1404.67 525.17,1405 528.29,1405.34 531.4,1405.68 534.52,1406.03 537.64,1406.39 540.76,1406.75 543.88,1407.12 547,1407.5 550.11,1407.89 553.23,1408.28 556.35,1408.68 559.47,1409.09 562.59,1409.51 565.7,1409.94 568.82,1410.37 571.94,1410.82 575.06,1411.27 578.18,1411.74 581.29,1412.21 584.41,1412.7 587.53,1413.2 590.65,1413.71 593.77,1414.23 596.89,1414.76 600,1415.3 603.12,1415.86 606.24,1416.43 609.36,1417.02 612.48,1417.62 615.59,1418.23 618.71,1418.86 621.83,1419.51 624.95,1420.17 628.07,1420.85 631.18,1421.55 634.3,1422.27 637.42,1423.01 640.54,1423.76 643.66,1424.54 646.78,1425.35 649.89,1426.17 653.01,1427.02 656.13,1427.9 659.25,1428.8 662.37,1429.73 665.48,1430.69 668.6,1431.68 671.72,1432.7 674.84,1433.76 677.96,1434.85 681.07,1435.98 684.19,1437.15 687.31,1438.36 690.43,1439.61 693.55,1440.91 696.67,1442.26 699.78,1443.65 702.9,1445.11 706.02,1446.62" fill="none" stroke="#0000ff" stroke-width="2.5" stroke-linejoin="round" stroke-linecap="square"/>
</g>
<rect x="74.5" y="1325.2" width="631.5" height="502.2" fill="none" stroke="#000" stroke-width="1.2"/>
<line x1="74.5" y1="1827.4" x2="74.5" y2="1831.9" stroke="#000" stroke-width="1.2"/>
<text transform="translate(65.23 1846.9) scale(0.9458 1)" font-size="14.1" fill="#000">0.0</text>
<line x1="153.44" y1="1827.4" x2="153.44" y2="1831.9" stroke="#000" stroke-width="1.2"/>
<text transform="translate(144.33 1846.9) scale(0.9360 1)" font-size="14.1" fill="#000">0.1</text>
<line x1="232.38" y1="1827.4" x2="232.38" y2="1831.9" stroke="#000" stroke-width="1.2"/>
<text transform="translate(223.32 1846.9) scale(0.9320 1)" font-size="14.1" fill="#000">0.2</text>
<line x1="311.32" y1="1827.4" x2="311.32" y2="1831.9" stroke="#000" stroke-width="1.2"/>
<text transform="translate(302.14 1846.9) scale(0.9405 1)" font-size="14.1" fill="#000">0.3</text>
<line x1="390.26" y1="1827.4" x2="390.26" y2="1831.9" stroke="#000" stroke-width="1.2"/>
<text transform="translate(380.93 1846.9) scale(0.9454 1)" font-size="14.1" fill="#000">0.4</text>
<line x1="469.2" y1="1827.4" x2="469.2" y2="1831.9" stroke="#000" stroke-width="1.2"/>
<text transform="translate(460.06 1846.9) scale(0.9343 1)" font-size="14.1" fill="#000">0.5</text>
<line x1="548.14" y1="1827.4" x2="548.14" y2="1831.9" stroke="#000" stroke-width="1.2"/>
<text transform="translate(538.85 1846.9) scale(0.9516 1)" font-size="14.1" fill="#000">0.6</text>
<line x1="627.08" y1="1827.4" x2="627.08" y2="1831.9" stroke="#000" stroke-width="1.2"/>
<text transform="translate(617.93 1846.9) scale(0.9415 1)" font-size="14.1" fill="#000">0.7</text>
<line x1="706.02" y1="1827.4" x2="706.02" y2="1831.9" stroke="#000" stroke-width="1.2"/>
<text transform="translate(696.76 1846.9) scale(0.9477 1)" font-size="14.1" fill="#000">0.8</text>
<line x1="70" y1="1743.56" x2="74.5" y2="1743.56" stroke="#000" stroke-width="1.2"/>
<text transform="translate(46.45 1748.36) scale(0.9360 1)" font-size="14.1" fill="#000">0.1</text>
<line x1="70" y1="1650.76" x2="74.5" y2="1650.76" stroke="#000" stroke-width="1.2"/>
<text transform="translate(46.54 1655.56) scale(0.9320 1)" font-size="14.1" fill="#000">0.2</text>
<line x1="70" y1="1557.97" x2="74.5" y2="1557.97" stroke="#000" stroke-width="1.2"/>
<text transform="translate(46.3 1562.77) scale(0.9405 1)" font-size="14.1" fill="#000">0.3</text>
<line x1="70" y1="1465.17" x2="74.5" y2="1465.17" stroke="#000" stroke-width="1.2"/>
<text transform="translate(46.01 1469.97) scale(0.9454 1)" font-size="14.1" fill="#000">0.4</text>
<line x1="70" y1="1372.38" x2="74.5" y2="1372.38" stroke="#000" stroke-width="1.2"/>
<text transform="translate(46.39 1377.18) scale(0.9343 1)" font-size="14.1" fill="#000">0.5</text>
<text transform="translate(284.71 1316.4) scale(1.0594 1)" font-size="18.31" fill="#000">Decision Curve Analysis</text>
<text transform="translate(312.03 1867.6) scale(1.0586 1)" font-size="15.7" fill="#000">Threshold Probability</text>
<text transform="translate(37.5 1624.56) rotate(-90) scale(1.2463 1)" font-size="15.26" fill="#000">Net Benefit</text>
<rect x="564.8" y="1532.6" width="134.9" height="88.4" fill="#fff" stroke="#d0d0d0" stroke-width="1" rx="3" fill-opacity="0.8"/>
<line x1="568.1" y1="1543.9" x2="595.7" y2="1543.9" stroke="#000" stroke-width="2.5" stroke-dasharray="9.6 4.2"/>
<text transform="translate(604.09 1548.5) scale(0.9534 1)" font-size="14.24" fill="#000">Treat None</text>
<line x1="568.1" y1="1564.9" x2="595.7" y2="1564.9" stroke="#808080" stroke-width="2.5" stroke-dasharray="9.6 4.2"/>
<text transform="translate(604.09 1569.5) scale(0.9538 1)" font-size="14.24" fill="#000">Treat All</text>
<line x1="568.1" y1="1585.8" x2="595.7" y2="1585.8" stroke="#22820e" stroke-width="2.5"/>
<text transform="translate(603.3 1590.4) scale(0.9416 1)" font-size="14.24" fill="#000">EUS Prediction</text>
<line x1="568.1" y1="1606.6" x2="595.7" y2="1606.6" stroke="#0000ff" stroke-width="2.5"/>
<text transform="translate(604.37 1611.2) scale(0.9690 1)" font-size="14.24" fill="#000">AI Prediction</text>
<line x1="904.19" y1="1325.2" x2="904.19" y2="1827.4" stroke="#cfcfcf" stroke-width="0.9" stroke-dasharray="3.3 1.9"/>
<line x1="982.88" y1="1325.2" x2="982.88" y2="1827.4" stroke="#cfcfcf" stroke-width="0.9" stroke-dasharray="3.3 1.9"/>
<line x1="1061.57" y1="1325.2" x2="1061.57" y2="1827.4" stroke="#cfcfcf" stroke-width="0.9" stroke-dasharray="3.3 1.9"/>
<line x1="1140.26" y1="1325.2" x2="1140.26" y2="1827.4" stroke="#cfcfcf" stroke-width="0.9" stroke-dasharray="3.3 1.9"/>
<line x1="1218.95" y1="1325.2" x2="1218.95" y2="1827.4" stroke="#cfcfcf" stroke-width="0.9" stroke-dasharray="3.3 1.9"/>
<line x1="1297.64" y1="1325.2" x2="1297.64" y2="1827.4" stroke="#cfcfcf" stroke-width="0.9" stroke-dasharray="3.3 1.9"/>
<line x1="1376.33" y1="1325.2" x2="1376.33" y2="1827.4" stroke="#cfcfcf" stroke-width="0.9" stroke-dasharray="3.3 1.9"/>
<line x1="825.5" y1="1743.56" x2="1455" y2="1743.56" stroke="#cfcfcf" stroke-width="0.9" stroke-dasharray="3.3 1.9"/>
<line x1="825.5" y1="1650.76" x2="1455" y2="1650.76" stroke="#cfcfcf" stroke-width="0.9" stroke-dasharray="3.3 1.9"/>
<line x1="825.5" y1="1557.97" x2="1455" y2="1557.97" stroke="#cfcfcf" stroke-width="0.9" stroke-dasharray="3.3 1.9"/>
<line x1="825.5" y1="1465.17" x2="1455" y2="1465.17" stroke="#cfcfcf" stroke-width="0.9" stroke-dasharray="3.3 1.9"/>
<line x1="825.5" y1="1372.38" x2="1455" y2="1372.38" stroke="#cfcfcf" stroke-width="0.9" stroke-dasharray="3.3 1.9"/>
<g clip-path="url(#clipf)">
<polyline points="833.37,1374.63 836.48,1376.5 839.59,1378.38 842.69,1380.28 845.8,1382.19 848.91,1384.12 852.02,1386.06 855.13,1388.03 858.24,1390 861.34,1391.99 864.45,1394 867.56,1396.03 870.67,1398.07 873.78,1400.13 876.88,1402.21 879.99,1404.31 883.1,1406.42 886.21,1408.55 889.32,1410.7 892.43,1412.87 895.53,1415.06 898.64,1417.27 901.75,1419.49 904.86,1421.74 907.97,1424 911.08,1426.29 914.18,1428.59 917.29,1430.92 920.4,1433.27 923.51,1435.63 926.62,1438.02 929.72,1440.43 932.83,1442.87 935.94,1445.32 939.05,1447.8 942.16,1450.3 945.27,1452.83 948.37,1455.38 951.48,1457.95 954.59,1460.55 957.7,1463.17 960.81,1465.81 963.92,1468.49 967.02,1471.18 970.13,1473.91 973.24,1476.66 976.35,1479.43 979.46,1482.24 982.57,1485.07 985.67,1487.93 988.78,1490.82 991.89,1493.74 995,1496.68 998.11,1499.66 1001.21,1502.67 1004.32,1505.7 1007.43,1508.77 1010.54,1511.87 1013.65,1515.01 1016.76,1518.17 1019.86,1521.37 1022.97,1524.6 1026.08,1527.87 1029.19,1531.17 1032.3,1534.51 1035.41,1537.88 1038.51,1541.29 1041.62,1544.74 1044.73,1548.22 1047.84,1551.74 1050.95,1555.3 1054.06,1558.91 1057.16,1562.55 1060.27,1566.23 1063.38,1569.95 1066.49,1573.72 1069.6,1577.53 1072.7,1581.38 1075.81,1585.28 1078.92,1589.23 1082.03,1593.22 1085.14,1597.25 1088.25,1601.34 1091.35,1605.47 1094.46,1609.65 1097.57,1613.89 1100.68,1618.17 1103.79,1622.51 1106.9,1626.9 1110,1631.35 1113.11,1635.85 1116.22,1640.4 1119.33,1645.02 1122.44,1649.69 1125.54,1654.42 1128.65,1659.22 1131.76,1664.07 1134.87,1668.99 1137.98,1673.98 1141.09,1679.02 1144.19,1684.14 1147.3,1689.32 1150.41,1694.58 1153.52,1699.9 1156.63,1705.3 1159.74,1710.77 1162.84,1716.32 1165.95,1721.95 1169.06,1727.65 1172.17,1733.43 1175.28,1739.3 1178.39,1745.25 1181.49,1751.29 1184.6,1757.41 1187.71,1763.63 1190.82,1769.93 1193.93,1776.33 1197.03,1782.82 1200.14,1789.42 1203.25,1796.11 1206.36,1802.91 1209.47,1809.81 1212.58,1816.81 1215.68,1823.93 1218.79,1831.16 1221.9,1838.51 1225.01,1845.97 1228.12,1853.55 1231.23,1861.26 1234.33,1869.09 1237.44,1877.06" fill="none" stroke="#808080" stroke-width="2.5" stroke-linejoin="round" stroke-dasharray="9.6 4.2"/>
<polyline points="833.37,1533.95 836.48,1534.44 839.59,1534.93 842.69,1535.43 845.8,1535.93 848.91,1536.43 852.02,1536.94 855.13,1537.46 858.24,1537.97 861.34,1538.5 864.45,1539.02 867.56,1539.55 870.67,1540.09 873.78,1540.63 876.88,1541.17 879.99,1541.72 883.1,1542.27 886.21,1542.83 889.32,1543.39 892.43,1543.96 895.53,1544.53 898.64,1545.11 901.75,1545.69 904.86,1546.28 907.97,1546.87 911.08,1547.47 914.18,1548.08 917.29,1548.68 920.4,1549.3 923.51,1549.92 926.62,1550.54 929.72,1551.18 932.83,1551.81 935.94,1552.46 939.05,1553.1 942.16,1553.76 945.27,1554.42 948.37,1555.09 951.48,1555.76 954.59,1556.44 957.7,1557.13 960.81,1557.82 963.92,1558.52 967.02,1559.22 970.13,1559.94 973.24,1560.66 976.35,1561.38 979.46,1562.12 982.57,1562.86 985.67,1563.61 988.78,1564.36 991.89,1565.13 995,1565.9 998.11,1566.68 1001.21,1567.47 1004.32,1568.26 1007.43,1569.06 1010.54,1569.88 1013.65,1570.7 1016.76,1571.52 1019.86,1572.36 1022.97,1573.21 1026.08,1574.06 1029.19,1574.93 1032.3,1575.8 1035.41,1576.68 1038.51,1577.58 1041.62,1578.48 1044.73,1579.39 1047.84,1580.31 1050.95,1581.24 1054.06,1582.19 1057.16,1583.14 1060.27,1584.1 1063.38,1585.08 1066.49,1586.06 1069.6,1587.06 1072.7,1588.07 1075.81,1589.09 1078.92,1590.12 1082.03,1591.17 1085.14,1592.22 1088.25,1593.29 1091.35,1594.38 1094.46,1595.47 1097.57,1596.58 1100.68,1597.7 1103.79,1598.84 1106.9,1599.99 1110,1601.15 1113.11,1602.33 1116.22,1603.52 1119.33,1604.73 1122.44,1605.95 1125.54,1607.19 1128.65,1608.44 1131.76,1609.72 1134.87,1611 1137.98,1612.31 1141.09,1613.63 1144.19,1614.97 1147.3,1616.33 1150.41,1617.7 1153.52,1619.09 1156.63,1620.51 1159.74,1621.94 1162.84,1623.39 1165.95,1624.86 1169.06,1626.36 1172.17,1627.87 1175.28,1629.41 1178.39,1630.96 1181.49,1632.54 1184.6,1634.15 1187.71,1635.77 1190.82,1637.42 1193.93,1639.1 1197.03,1640.8 1200.14,1642.53 1203.25,1644.28 1206.36,1646.06 1209.47,1647.86 1212.58,1649.7 1215.68,1651.56 1218.79,1653.45 1221.9,1655.37 1225.01,1657.33 1228.12,1659.31 1231.23,1661.33 1234.33,1663.38 1237.44,1665.47 1240.55,1667.59 1243.66,1669.74 1246.77,1671.93 1249.88,1674.16 1252.98,1676.43 1256.09,1678.74 1259.2,1681.09 1262.31,1683.48 1265.42,1685.91 1268.52,1688.38 1271.63,1690.91 1274.74,1693.47 1277.85,1696.09 1280.96,1698.76 1284.07,1701.47 1287.17,1704.24 1290.28,1707.06 1293.39,1709.94 1296.5,1712.87 1299.61,1715.86 1302.72,1718.91 1305.82,1722.02 1308.93,1725.2 1312.04,1728.44 1315.15,1731.75 1318.26,1735.13 1321.37,1738.58 1324.47,1742.11 1327.58,1745.71 1330.69,1749.39 1333.8,1753.16 1336.91,1757.01 1340.01,1760.95 1343.12,1764.98 1346.23,1769.1 1349.34,1773.32 1352.45,1777.64 1355.56,1782.07 1358.66,1786.6 1361.77,1791.25 1364.88,1796.01 1367.99,1800.9 1371.1,1805.91 1374.21,1811.05 1377.31,1816.33 1380.42,1821.74 1383.53,1827.31 1386.64,1833.03 1389.75,1838.91 1392.85,1844.95 1395.96,1851.17 1399.07,1857.57 1402.18,1864.16 1405.29,1870.95 1408.4,1877.94" fill="none" stroke="#22820e" stroke-width="2.5" stroke-linejoin="round" stroke-linecap="square"/>
<polyline points="833.37,1409.23 836.48,1409.31 839.59,1409.39 842.69,1409.47 845.8,1409.55 848.91,1409.63 852.02,1409.71 855.13,1409.79 858.24,1409.88 861.34,1409.96 864.45,1410.04 867.56,1410.13 870.67,1410.21 873.78,1410.3 876.88,1410.39 879.99,1410.48 883.1,1410.56 886.21,1410.65 889.32,1410.74 892.43,1410.84 895.53,1410.93 898.64,1411.02 901.75,1411.11 904.86,1411.21 907.97,1411.3 911.08,1411.4 914.18,1411.5 917.29,1411.59 920.4,1411.69 923.51,1411.79 926.62,1411.89 929.72,1411.99 932.83,1412.09 935.94,1412.2 939.05,1412.3 942.16,1412.41 945.27,1412.51 948.37,1412.62 951.48,1412.73 954.59,1412.84 957.7,1412.95 960.81,1413.06 963.92,1413.17 967.02,1413.28 970.13,1413.4 973.24,1413.51 976.35,1413.63 979.46,1413.75 982.57,1413.87 985.67,1413.99 988.78,1414.11 991.89,1414.23 995,1414.35 998.11,1414.48 1001.21,1414.6 1004.32,1414.73 1007.43,1414.86 1010.54,1414.99 1013.65,1415.12 1016.76,1415.26 1019.86,1415.39 1022.97,1415.53 1026.08,1415.66 1029.19,1415.8 1032.3,1415.94 1035.41,1416.08 1038.51,1416.23 1041.62,1416.37 1044.73,1416.52 1047.84,1416.66 1050.95,1416.81 1054.06,1416.97 1057.16,1417.12 1060.27,1417.27 1063.38,1417.43 1066.49,1417.59 1069.6,1417.75 1072.7,1417.91 1075.81,1418.07 1078.92,1418.24 1082.03,1418.41 1085.14,1418.58 1088.25,1418.75 1091.35,1418.92 1094.46,1419.1 1097.57,1419.27 1100.68,1419.45 1103.79,1419.64 1106.9,1419.82 1110,1420.01 1113.11,1420.2 1116.22,1420.39 1119.33,1420.58 1122.44,1420.78 1125.54,1420.98 1128.65,1421.18 1131.76,1421.38 1134.87,1421.59 1137.98,1421.8 1141.09,1422.01 1144.19,1422.22 1147.3,1422.44 1150.41,1422.66 1153.52,1422.88 1156.63,1423.11 1159.74,1423.34 1162.84,1423.57 1165.95,1423.81 1169.06,1424.05 1172.17,1424.29 1175.28,1424.54 1178.39,1424.79 1181.49,1425.04 1184.6,1425.3 1187.71,1425.56 1190.82,1425.82 1193.93,1426.09 1197.03,1426.37 1200.14,1426.64 1203.25,1426.92 1206.36,1427.21 1209.47,1427.5 1212.58,1427.79 1215.68,1428.09 1218.79,1428.39 1221.9,1428.7 1225.01,1429.02 1228.12,1429.33 1231.23,1429.66 1234.33,1429.99 1237.44,1430.32 1240.55,1430.66 1243.66,1431.01 1246.77,1431.36 1249.88,1431.72 1252.98,1432.08 1256.09,1432.45 1259.2,1432.83 1262.31,1433.21 1265.42,1433.6 1268.52,1434 1271.63,1434.4 1274.74,1434.81 1277.85,1435.23 1280.96,1435.66 1284.07,1436.09 1287.17,1436.54 1290.28,1436.99 1293.39,1437.45 1296.5,1437.92 1299.61,1438.4 1302.72,1438.89 1305.82,1439.39 1308.93,1439.9 1312.04,1440.42 1315.15,1440.95 1318.26,1441.49 1321.37,1442.05 1324.47,1442.61 1327.58,1443.19 1330.69,1443.78 1333.8,1444.38 1336.91,1445 1340.01,1445.63 1343.12,1446.28 1346.23,1446.94 1349.34,1447.62 1352.45,1448.31 1355.56,1449.02 1358.66,1449.75 1361.77,1450.49 1364.88,1451.26 1367.99,1452.04 1371.1,1452.84 1374.21,1453.67 1377.31,1454.51 1380.42,1455.38 1383.53,1456.28 1386.64,1457.19 1389.75,1458.14 1392.85,1459.11 1395.96,1460.1 1399.07,1461.13 1402.18,1462.19 1405.29,1463.27 1408.4,1464.4 1411.5,1465.55 1414.61,1466.74 1417.72,1467.98 1420.83,1469.25 1423.94,1470.56 1427.05,1471.92 1430.15,1473.32 1433.26,1474.77 1436.37,1476.27 1439.48,1477.83 1442.59,1479.44 1445.7,1481.12 1448.8,1482.86 1451.91,1484.66 1455.02,1486.54" fill="none" stroke="#0000ff" stroke-width="2.5" stroke-linejoin="round" stroke-linecap="square"/>
</g>
<rect x="825.5" y="1325.2" width="629.5" height="502.2" fill="none" stroke="#000" stroke-width="1.2"/>
<line x1="825.5" y1="1827.4" x2="825.5" y2="1831.9" stroke="#000" stroke-width="1.2"/>
<text transform="translate(816.23 1846.9) scale(0.9458 1)" font-size="14.1" fill="#000">0.0</text>
<line x1="904.19" y1="1827.4" x2="904.19" y2="1831.9" stroke="#000" stroke-width="1.2"/>
<text transform="translate(895.08 1846.9) scale(0.9360 1)" font-size="14.1" fill="#000">0.1</text>
<line x1="982.88" y1="1827.4" x2="982.88" y2="1831.9" stroke="#000" stroke-width="1.2"/>
<text transform="translate(973.82 1846.9) scale(0.9320 1)" font-size="14.1" fill="#000">0.2</text>
<line x1="1061.57" y1="1827.4" x2="1061.57" y2="1831.9" stroke="#000" stroke-width="1.2"/>
<text transform="translate(1052.39 1846.9) scale(0.9405 1)" font-size="14.1" fill="#000">0.3</text>
<line x1="1140.26" y1="1827.4" x2="1140.26" y2="1831.9" stroke="#000" stroke-width="1.2"/>
<text transform="translate(1130.93 1846.9) scale(0.9454 1)" font-size="14.1" fill="#000">0.4</text>
<line x1="1218.95" y1="1827.4" x2="1218.95" y2="1831.9" stroke="#000" stroke-width="1.2"/>
<text transform="translate(1209.81 1846.9) scale(0.9343 1)" font-size="14.1" fill="#000">0.5</text>
<line x1="1297.64" y1="1827.4" x2="1297.64" y2="1831.9" stroke="#000" stroke-width="1.2"/>
<text transform="translate(1288.35 1846.9) scale(0.9516 1)" font-size="14.1" fill="#000">0.6</text>
<line x1="1376.33" y1="1827.4" x2="1376.33" y2="1831.9" stroke="#000" stroke-width="1.2"/>
<text transform="translate(1367.18 1846.9) scale(0.9415 1)" font-size="14.1" fill="#000">0.7</text>
<line x1="1455.02" y1="1827.4" x2="1455.02" y2="1831.9" stroke="#000" stroke-width="1.2"/>
<text transform="translate(1445.76 1846.9) scale(0.9477 1)" font-size="14.1" fill="#000">0.8</text>
<line x1="821" y1="1743.56" x2="825.5" y2="1743.56" stroke="#000" stroke-width="1.2"/>
<text transform="translate(797.45 1748.36) scale(0.9360 1)" font-size="14.1" fill="#000">0.1</text>
<line x1="821" y1="1650.76" x2="825.5" y2="1650.76" stroke="#000" stroke-width="1.2"/>
<text transform="translate(797.54 1655.56) scale(0.9320 1)" font-size="14.1" fill="#000">0.2</text>
<line x1="821" y1="1557.97" x2="825.5" y2="1557.97" stroke="#000" stroke-width="1.2"/>
<text transform="translate(797.3 1562.77) scale(0.9405 1)" font-size="14.1" fill="#000">0.3</text>
<line x1="821" y1="1465.17" x2="825.5" y2="1465.17" stroke="#000" stroke-width="1.2"/>
<text transform="translate(797.01 1469.97) scale(0.9454 1)" font-size="14.1" fill="#000">0.4</text>
<line x1="821" y1="1372.38" x2="825.5" y2="1372.38" stroke="#000" stroke-width="1.2"/>
<text transform="translate(797.39 1377.18) scale(0.9343 1)" font-size="14.1" fill="#000">0.5</text>
<text transform="translate(1035.22 1316.4) scale(1.0543 1)" font-size="18.31" fill="#000">Decision Curve Analysis</text>
<text transform="translate(1061.37 1867.6) scale(1.0710 1)" font-size="15.7" fill="#000">Threshold probability</text>
<text transform="translate(789.1 1623.49) rotate(-90) scale(1.2671 1)" font-size="15.26" fill="#000">Net benefit</text>
<rect x="1314.5" y="1532.8" width="134" height="87.8" fill="#fff" stroke="#d0d0d0" stroke-width="1" rx="3" fill-opacity="0.8"/>
<line x1="1317.5" y1="1543.9" x2="1344.8" y2="1543.9" stroke="#000" stroke-width="2.5" stroke-dasharray="9.6 4.2"/>
<text transform="translate(1352.78 1548.5) scale(0.9548 1)" font-size="14.24" fill="#000">None</text>
<line x1="1317.5" y1="1564.9" x2="1344.8" y2="1564.9" stroke="#808080" stroke-width="2.5" stroke-dasharray="9.6 4.2"/>
<text transform="translate(1353.87 1569.5) scale(0.9604 1)" font-size="14.24" fill="#000">All</text>
<line x1="1317.5" y1="1585.8" x2="1344.8" y2="1585.8" stroke="#22820e" stroke-width="2.5"/>
<text transform="translate(1352.8 1590.4) scale(0.9416 1)" font-size="14.24" fill="#000">EUS Prediction</text>
<line x1="1317.5" y1="1606.6" x2="1344.8" y2="1606.6" stroke="#0000ff" stroke-width="2.5"/>
<text transform="translate(1353.87 1611.2) scale(0.9690 1)" font-size="14.24" fill="#000">AI Prediction</text>
<line x1="165.81" y1="1953" x2="165.81" y2="2455.2" stroke="#cfcfcf" stroke-width="0.9" stroke-dasharray="3.3 1.9"/>
<line x1="245.22" y1="1953" x2="245.22" y2="2455.2" stroke="#cfcfcf" stroke-width="0.9" stroke-dasharray="3.3 1.9"/>
<line x1="324.63" y1="1953" x2="324.63" y2="2455.2" stroke="#cfcfcf" stroke-width="0.9" stroke-dasharray="3.3 1.9"/>
<line x1="404.04" y1="1953" x2="404.04" y2="2455.2" stroke="#cfcfcf" stroke-width="0.9" stroke-dasharray="3.3 1.9"/>
<line x1="483.45" y1="1953" x2="483.45" y2="2455.2" stroke="#cfcfcf" stroke-width="0.9" stroke-dasharray="3.3 1.9"/>
<line x1="562.86" y1="1953" x2="562.86" y2="2455.2" stroke="#cfcfcf" stroke-width="0.9" stroke-dasharray="3.3 1.9"/>
<line x1="642.27" y1="1953" x2="642.27" y2="2455.2" stroke="#cfcfcf" stroke-width="0.9" stroke-dasharray="3.3 1.9"/>
<line x1="86.4" y1="2371.3" x2="721.7" y2="2371.3" stroke="#cfcfcf" stroke-width="0.9" stroke-dasharray="3.3 1.9"/>
<line x1="86.4" y1="2278.48" x2="721.7" y2="2278.48" stroke="#cfcfcf" stroke-width="0.9" stroke-dasharray="3.3 1.9"/>
<line x1="86.4" y1="2185.65" x2="721.7" y2="2185.65" stroke="#cfcfcf" stroke-width="0.9" stroke-dasharray="3.3 1.9"/>
<line x1="86.4" y1="2092.82" x2="721.7" y2="2092.82" stroke="#cfcfcf" stroke-width="0.9" stroke-dasharray="3.3 1.9"/>
<line x1="86.4" y1="2000" x2="721.7" y2="2000" stroke="#cfcfcf" stroke-width="0.9" stroke-dasharray="3.3 1.9"/>
<g clip-path="url(#clipg)">
<polyline points="94.34,2004.69 97.48,2006.57 100.61,2008.46 103.75,2010.37 106.89,2012.29 110.02,2014.23 113.16,2016.19 116.3,2018.16 119.43,2020.15 122.57,2022.15 125.71,2024.17 128.84,2026.21 131.98,2028.26 135.12,2030.34 138.25,2032.42 141.39,2034.53 144.53,2036.66 147.66,2038.8 150.8,2040.96 153.94,2043.14 157.07,2045.34 160.21,2047.56 163.35,2049.8 166.48,2052.06 169.62,2054.33 172.76,2056.63 175.9,2058.95 179.03,2061.29 182.17,2063.65 185.31,2066.03 188.44,2068.43 191.58,2070.86 194.72,2073.31 197.85,2075.77 200.99,2078.27 204.13,2080.78 207.26,2083.32 210.4,2085.88 213.54,2088.47 216.67,2091.08 219.81,2093.72 222.95,2096.38 226.08,2099.07 229.22,2101.78 232.36,2104.52 235.49,2107.28 238.63,2110.07 241.77,2112.89 244.9,2115.74 248.04,2118.62 251.18,2121.52 254.31,2124.46 257.45,2127.42 260.59,2130.41 263.72,2133.44 266.86,2136.49 270,2139.58 273.13,2142.69 276.27,2145.84 279.41,2149.03 282.54,2152.24 285.68,2155.49 288.82,2158.78 291.95,2162.1 295.09,2165.45 298.23,2168.84 301.36,2172.27 304.5,2175.74 307.64,2179.24 310.77,2182.78 313.91,2186.37 317.05,2189.99 320.18,2193.65 323.32,2197.35 326.46,2201.1 329.59,2204.88 332.73,2208.71 335.87,2212.59 339,2216.51 342.14,2220.48 345.28,2224.49 348.41,2228.55 351.55,2232.65 354.69,2236.81 357.82,2241.02 360.96,2245.28 364.1,2249.58 367.23,2253.95 370.37,2258.36 373.51,2262.83 376.64,2267.36 379.78,2271.94 382.92,2276.58 386.05,2281.28 389.19,2286.04 392.33,2290.86 395.46,2295.74 398.6,2300.69 401.74,2305.7 404.87,2310.77 408.01,2315.92 411.15,2321.13 414.28,2326.41 417.42,2331.77 420.56,2337.2 423.69,2342.7 426.83,2348.28 429.97,2353.93 433.1,2359.67 436.24,2365.48 439.38,2371.38 442.51,2377.37 445.65,2383.44 448.79,2389.6 451.92,2395.84 455.06,2402.18 458.2,2408.62 461.33,2415.15 464.47,2421.78 467.61,2428.51 470.74,2435.34 473.88,2442.28 477.02,2449.33 480.15,2456.48 483.29,2463.75 486.43,2471.14 489.56,2478.64 492.7,2486.27 495.84,2494.02 498.97,2501.9 502.11,2509.9" fill="none" stroke="#808080" stroke-width="2.5" stroke-linejoin="round" stroke-dasharray="9.6 4.2"/>
<polyline points="94.34,2088.16 97.48,2088.89 100.61,2089.63 103.75,2090.38 106.89,2091.13 110.02,2091.89 113.16,2092.66 116.3,2093.43 119.43,2094.2 122.57,2094.99 125.71,2095.78 128.84,2096.57 131.98,2097.38 135.12,2098.19 138.25,2099.01 141.39,2099.83 144.53,2100.66 147.66,2101.5 150.8,2102.34 153.94,2103.2 157.07,2104.06 160.21,2104.92 163.35,2105.8 166.48,2106.68 169.62,2107.57 172.76,2108.47 175.9,2109.38 179.03,2110.29 182.17,2111.21 185.31,2112.15 188.44,2113.08 191.58,2114.03 194.72,2114.99 197.85,2115.96 200.99,2116.93 204.13,2117.91 207.26,2118.91 210.4,2119.91 213.54,2120.92 216.67,2121.94 219.81,2122.97 222.95,2124.01 226.08,2125.06 229.22,2126.12 232.36,2127.19 235.49,2128.27 238.63,2129.37 241.77,2130.47 244.9,2131.58 248.04,2132.71 251.18,2133.84 254.31,2134.99 257.45,2136.15 260.59,2137.32 263.72,2138.5 266.86,2139.69 270,2140.9 273.13,2142.12 276.27,2143.35 279.41,2144.6 282.54,2145.85 285.68,2147.13 288.82,2148.41 291.95,2149.71 295.09,2151.02 298.23,2152.35 301.36,2153.69 304.5,2155.04 307.64,2156.41 310.77,2157.8 313.91,2159.2 317.05,2160.61 320.18,2162.04 323.32,2163.49 326.46,2164.96 329.59,2166.44 332.73,2167.93 335.87,2169.45 339,2170.98 342.14,2172.53 345.28,2174.1 348.41,2175.69 351.55,2177.3 354.69,2178.92 357.82,2180.57 360.96,2182.23 364.1,2183.91 367.23,2185.62 370.37,2187.35 373.51,2189.09 376.64,2190.86 379.78,2192.66 382.92,2194.47 386.05,2196.31 389.19,2198.17 392.33,2200.05 395.46,2201.96 398.6,2203.9 401.74,2205.85 404.87,2207.84 408.01,2209.85 411.15,2211.89 414.28,2213.95 417.42,2216.05 420.56,2218.17 423.69,2220.32 426.83,2222.5 429.97,2224.71 433.1,2226.96 436.24,2229.23 439.38,2231.54 442.51,2233.88 445.65,2236.25 448.79,2238.66 451.92,2241.1 455.06,2243.58 458.2,2246.1 461.33,2248.65 464.47,2251.24 467.61,2253.87 470.74,2256.55 473.88,2259.26 477.02,2262.01 480.15,2264.81 483.29,2267.66 486.43,2270.54 489.56,2273.48 492.7,2276.46 495.84,2279.49 498.97,2282.57 502.11,2285.7 505.25,2288.88 508.38,2292.12 511.52,2295.41 514.66,2298.76 517.79,2302.17 520.93,2305.63 524.07,2309.16 527.2,2312.75 530.34,2316.4 533.48,2320.12 536.61,2323.91 539.75,2327.77 542.89,2331.7 546.03,2335.7 549.16,2339.78 552.3,2343.94 555.44,2348.17 558.57,2352.49 561.71,2356.9 564.85,2361.39 567.98,2365.97 571.12,2370.65 574.26,2375.42 577.39,2380.29 580.53,2385.26 583.67,2390.34 586.8,2395.52 589.94,2400.82 593.08,2406.23 596.21,2411.76 599.35,2417.42 602.49,2423.2 605.62,2429.12 608.76,2435.17 611.9,2441.36 615.03,2447.7 618.17,2454.19 621.31,2460.84 624.44,2467.65 627.58,2474.63 630.72,2481.78 633.85,2489.12 636.99,2496.65 640.13,2504.37" fill="none" stroke="#22820e" stroke-width="2.5" stroke-linejoin="round" stroke-linecap="square"/>
<polyline points="94.34,2041.91 97.48,2042.33 100.61,2042.76 103.75,2043.2 106.89,2043.64 110.02,2044.08 113.16,2044.52 116.3,2044.97 119.43,2045.42 122.57,2045.88 125.71,2046.33 128.84,2046.8 131.98,2047.26 135.12,2047.74 138.25,2048.21 141.39,2048.69 144.53,2049.17 147.66,2049.66 150.8,2050.15 153.94,2050.65 157.07,2051.14 160.21,2051.65 163.35,2052.16 166.48,2052.67 169.62,2053.19 172.76,2053.71 175.9,2054.24 179.03,2054.77 182.17,2055.3 185.31,2055.85 188.44,2056.39 191.58,2056.94 194.72,2057.5 197.85,2058.06 200.99,2058.63 204.13,2059.2 207.26,2059.77 210.4,2060.36 213.54,2060.94 216.67,2061.54 219.81,2062.14 222.95,2062.74 226.08,2063.35 229.22,2063.97 232.36,2064.59 235.49,2065.22 238.63,2065.85 241.77,2066.49 244.9,2067.14 248.04,2067.79 251.18,2068.45 254.31,2069.12 257.45,2069.79 260.59,2070.47 263.72,2071.16 266.86,2071.85 270,2072.55 273.13,2073.26 276.27,2073.98 279.41,2074.7 282.54,2075.43 285.68,2076.17 288.82,2076.92 291.95,2077.67 295.09,2078.43 298.23,2079.2 301.36,2079.98 304.5,2080.77 307.64,2081.57 310.77,2082.37 313.91,2083.19 317.05,2084.01 320.18,2084.84 323.32,2085.68 326.46,2086.53 329.59,2087.39 332.73,2088.26 335.87,2089.14 339,2090.03 342.14,2090.94 345.28,2091.85 348.41,2092.77 351.55,2093.7 354.69,2094.65 357.82,2095.6 360.96,2096.57 364.1,2097.55 367.23,2098.54 370.37,2099.54 373.51,2100.56 376.64,2101.59 379.78,2102.63 382.92,2103.68 386.05,2104.75 389.19,2105.83 392.33,2106.93 395.46,2108.03 398.6,2109.16 401.74,2110.3 404.87,2111.45 408.01,2112.62 411.15,2113.8 414.28,2115 417.42,2116.22 420.56,2117.45 423.69,2118.7 426.83,2119.97 429.97,2121.26 433.1,2122.56 436.24,2123.88 439.38,2125.22 442.51,2126.58 445.65,2127.96 448.79,2129.36 451.92,2130.78 455.06,2132.22 458.2,2133.68 461.33,2135.16 464.47,2136.67 467.61,2138.2 470.74,2139.75 473.88,2141.33 477.02,2142.93 480.15,2144.56 483.29,2146.21 486.43,2147.89 489.56,2149.59 492.7,2151.32 495.84,2153.08 498.97,2154.87 502.11,2156.69 505.25,2158.54 508.38,2160.42 511.52,2162.34 514.66,2164.28 517.79,2166.26 520.93,2168.28 524.07,2170.33 527.2,2172.41 530.34,2174.53 533.48,2176.7 536.61,2178.9 539.75,2181.14 542.89,2183.42 546.03,2185.75 549.16,2188.12 552.3,2190.53 555.44,2193 558.57,2195.51 561.71,2198.06 564.85,2200.67 567.98,2203.34 571.12,2206.05 574.26,2208.83 577.39,2211.66 580.53,2214.54 583.67,2217.49 586.8,2220.51 589.94,2223.59 593.08,2226.73 596.21,2229.94 599.35,2233.23 602.49,2236.59 605.62,2240.03 608.76,2243.54 611.9,2247.14 615.03,2250.83 618.17,2254.6 621.31,2258.46 624.44,2262.42 627.58,2266.47 630.72,2270.63 633.85,2274.9 636.99,2279.27 640.13,2283.76 643.26,2288.36 646.4,2293.09 649.54,2297.95 652.67,2302.94 655.81,2308.07 658.95,2313.35 662.08,2318.78 665.22,2324.36 668.36,2330.11 671.49,2336.04 674.63,2342.14 677.77,2348.43 680.9,2354.93 684.04,2361.62 687.18,2368.54 690.31,2375.68 693.45,2383.07 696.59,2390.7 699.72,2398.6 702.86,2406.78 706,2415.25 709.13,2424.04 712.27,2433.15 715.41,2442.6 718.54,2452.43 721.68,2462.64" fill="none" stroke="#0000ff" stroke-width="2.5" stroke-linejoin="round" stroke-linecap="square"/>
</g>
<rect x="86.4" y="1953" width="635.3" height="502.2" fill="none" stroke="#000" stroke-width="1.2"/>
<line x1="86.4" y1="2455.2" x2="86.4" y2="2459.7" stroke="#000" stroke-width="1.2"/>
<text transform="translate(77.13 2474.7) scale(0.9458 1)" font-size="14.1" fill="#000">0.0</text>
<line x1="165.81" y1="2455.2" x2="165.81" y2="2459.7" stroke="#000" stroke-width="1.2"/>
<text transform="translate(156.7 2474.7) scale(0.9360 1)" font-size="14.1" fill="#000">0.1</text>
<line x1="245.22" y1="2455.2" x2="245.22" y2="2459.7" stroke="#000" stroke-width="1.2"/>
<text transform="translate(236.16 2474.7) scale(0.9320 1)" font-size="14.1" fill="#000">0.2</text>
<line x1="324.63" y1="2455.2" x2="324.63" y2="2459.7" stroke="#000" stroke-width="1.2"/>
<text transform="translate(315.45 2474.7) scale(0.9405 1)" font-size="14.1" fill="#000">0.3</text>
<line x1="404.04" y1="2455.2" x2="404.04" y2="2459.7" stroke="#000" stroke-width="1.2"/>
<text transform="translate(394.71 2474.7) scale(0.9454 1)" font-size="14.1" fill="#000">0.4</text>
<line x1="483.45" y1="2455.2" x2="483.45" y2="2459.7" stroke="#000" stroke-width="1.2"/>
<text transform="translate(474.31 2474.7) scale(0.9343 1)" font-size="14.1" fill="#000">0.5</text>
<line x1="562.86" y1="2455.2" x2="562.86" y2="2459.7" stroke="#000" stroke-width="1.2"/>
<text transform="translate(553.57 2474.7) scale(0.9516 1)" font-size="14.1" fill="#000">0.6</text>
<line x1="642.27" y1="2455.2" x2="642.27" y2="2459.7" stroke="#000" stroke-width="1.2"/>
<text transform="translate(633.12 2474.7) scale(0.9415 1)" font-size="14.1" fill="#000">0.7</text>
<line x1="721.68" y1="2455.2" x2="721.68" y2="2459.7" stroke="#000" stroke-width="1.2"/>
<text transform="translate(712.42 2474.7) scale(0.9477 1)" font-size="14.1" fill="#000">0.8</text>
<line x1="81.9" y1="2371.3" x2="86.4" y2="2371.3" stroke="#000" stroke-width="1.2"/>
<text transform="translate(58.35 2376.1) scale(0.9360 1)" font-size="14.1" fill="#000">0.1</text>
<line x1="81.9" y1="2278.48" x2="86.4" y2="2278.48" stroke="#000" stroke-width="1.2"/>
<text transform="translate(58.44 2283.28) scale(0.9320 1)" font-size="14.1" fill="#000">0.2</text>
<line x1="81.9" y1="2185.65" x2="86.4" y2="2185.65" stroke="#000" stroke-width="1.2"/>
<text transform="translate(58.2 2190.45) scale(0.9405 1)" font-size="14.1" fill="#000">0.3</text>
<line x1="81.9" y1="2092.82" x2="86.4" y2="2092.82" stroke="#000" stroke-width="1.2"/>
<text transform="translate(57.91 2097.62) scale(0.9454 1)" font-size="14.1" fill="#000">0.4</text>
<line x1="81.9" y1="2000" x2="86.4" y2="2000" stroke="#000" stroke-width="1.2"/>
<text transform="translate(58.29 2004.8) scale(0.9343 1)" font-size="14.1" fill="#000">0.5</text>
<text transform="translate(298.4 1944.1) scale(1.0635 1)" font-size="18.31" fill="#000">Decision Curve Analysis</text>
<text transform="translate(324.12 2494.5) scale(1.0820 1)" font-size="15.7" fill="#000">Threshold probability</text>
<text transform="translate(49.4 2252) rotate(-90) scale(1.2768 1)" font-size="15.26" fill="#000">Net benefit</text>
<rect x="579.8" y="2160.8" width="135.6" height="87.3" fill="#fff" stroke="#d0d0d0" stroke-width="1" rx="3" fill-opacity="0.8"/>
<line x1="583.2" y1="2171.4" x2="610.8" y2="2171.4" stroke="#000" stroke-width="2.5" stroke-dasharray="9.6 4.2"/>
<text transform="translate(618.78 2176) scale(0.9548 1)" font-size="14.24" fill="#000">None</text>
<line x1="583.2" y1="2192.5" x2="610.8" y2="2192.5" stroke="#808080" stroke-width="2.5" stroke-dasharray="9.6 4.2"/>
<text transform="translate(619.87 2197.1) scale(0.9604 1)" font-size="14.24" fill="#000">All</text>
<line x1="583.2" y1="2213.4" x2="610.8" y2="2213.4" stroke="#22820e" stroke-width="2.5"/>
<text transform="translate(618.8 2218) scale(0.9416 1)" font-size="14.24" fill="#000">EUS Prediction</text>
<line x1="583.2" y1="2234.4" x2="610.8" y2="2234.4" stroke="#0000ff" stroke-width="2.5"/>
<text transform="translate(619.87 2239) scale(0.9690 1)" font-size="14.24" fill="#000">AI Prediction</text>
<line x1="906.62" y1="1953" x2="906.62" y2="2455.2" stroke="#cfcfcf" stroke-width="0.9" stroke-dasharray="3.3 1.9"/>
<line x1="985.44" y1="1953" x2="985.44" y2="2455.2" stroke="#cfcfcf" stroke-width="0.9" stroke-dasharray="3.3 1.9"/>
<line x1="1064.26" y1="1953" x2="1064.26" y2="2455.2" stroke="#cfcfcf" stroke-width="0.9" stroke-dasharray="3.3 1.9"/>
<line x1="1143.08" y1="1953" x2="1143.08" y2="2455.2" stroke="#cfcfcf" stroke-width="0.9" stroke-dasharray="3.3 1.9"/>
<line x1="1221.9" y1="1953" x2="1221.9" y2="2455.2" stroke="#cfcfcf" stroke-width="0.9" stroke-dasharray="3.3 1.9"/>
<line x1="1300.72" y1="1953" x2="1300.72" y2="2455.2" stroke="#cfcfcf" stroke-width="0.9" stroke-dasharray="3.3 1.9"/>
<line x1="1379.54" y1="1953" x2="1379.54" y2="2455.2" stroke="#cfcfcf" stroke-width="0.9" stroke-dasharray="3.3 1.9"/>
<line x1="827.8" y1="2371.3" x2="1458.4" y2="2371.3" stroke="#cfcfcf" stroke-width="0.9" stroke-dasharray="3.3 1.9"/>
<line x1="827.8" y1="2278.48" x2="1458.4" y2="2278.48" stroke="#cfcfcf" stroke-width="0.9" stroke-dasharray="3.3 1.9"/>
<line x1="827.8" y1="2185.65" x2="1458.4" y2="2185.65" stroke="#cfcfcf" stroke-width="0.9" stroke-dasharray="3.3 1.9"/>
<line x1="827.8" y1="2092.82" x2="1458.4" y2="2092.82" stroke="#cfcfcf" stroke-width="0.9" stroke-dasharray="3.3 1.9"/>
<line x1="827.8" y1="2000" x2="1458.4" y2="2000" stroke="#cfcfcf" stroke-width="0.9" stroke-dasharray="3.3 1.9"/>
<g clip-path="url(#cliph)">
<polyline points="835.68,2004.69 838.8,2006.57 841.91,2008.46 845.02,2010.37 848.14,2012.29 851.25,2014.23 854.36,2016.19 857.48,2018.16 860.59,2020.15 863.7,2022.15 866.82,2024.17 869.93,2026.21 873.04,2028.26 876.16,2030.34 879.27,2032.42 882.38,2034.53 885.5,2036.66 888.61,2038.8 891.72,2040.96 894.84,2043.14 897.95,2045.34 901.06,2047.56 904.18,2049.8 907.29,2052.06 910.4,2054.33 913.52,2056.63 916.63,2058.95 919.74,2061.29 922.86,2063.65 925.97,2066.03 929.08,2068.43 932.2,2070.86 935.31,2073.31 938.42,2075.77 941.54,2078.27 944.65,2080.78 947.76,2083.32 950.88,2085.88 953.99,2088.47 957.1,2091.08 960.22,2093.72 963.33,2096.38 966.44,2099.07 969.56,2101.78 972.67,2104.52 975.78,2107.28 978.9,2110.07 982.01,2112.89 985.12,2115.74 988.24,2118.62 991.35,2121.52 994.46,2124.46 997.58,2127.42 1000.69,2130.41 1003.81,2133.44 1006.92,2136.49 1010.03,2139.58 1013.15,2142.69 1016.26,2145.84 1019.37,2149.03 1022.49,2152.24 1025.6,2155.49 1028.71,2158.78 1031.83,2162.1 1034.94,2165.45 1038.05,2168.84 1041.17,2172.27 1044.28,2175.74 1047.39,2179.24 1050.51,2182.78 1053.62,2186.37 1056.73,2189.99 1059.85,2193.65 1062.96,2197.35 1066.07,2201.1 1069.19,2204.88 1072.3,2208.71 1075.41,2212.59 1078.53,2216.51 1081.64,2220.48 1084.75,2224.49 1087.87,2228.55 1090.98,2232.65 1094.09,2236.81 1097.21,2241.02 1100.32,2245.28 1103.43,2249.58 1106.55,2253.95 1109.66,2258.36 1112.77,2262.83 1115.89,2267.36 1119,2271.94 1122.11,2276.58 1125.23,2281.28 1128.34,2286.04 1131.45,2290.86 1134.57,2295.74 1137.68,2300.69 1140.79,2305.7 1143.91,2310.77 1147.02,2315.92 1150.13,2321.13 1153.25,2326.41 1156.36,2331.77 1159.47,2337.2 1162.59,2342.7 1165.7,2348.28 1168.81,2353.93 1171.93,2359.67 1175.04,2365.48 1178.15,2371.38 1181.27,2377.37 1184.38,2383.44 1187.5,2389.6 1190.61,2395.84 1193.72,2402.18 1196.84,2408.62 1199.95,2415.15 1203.06,2421.78 1206.18,2428.51 1209.29,2435.34 1212.4,2442.28 1215.52,2449.33 1218.63,2456.48 1221.74,2463.75 1224.86,2471.14 1227.97,2478.64 1231.08,2486.27 1234.2,2494.02 1237.31,2501.9 1240.42,2509.9" fill="none" stroke="#808080" stroke-width="2.5" stroke-linejoin="round" stroke-dasharray="9.6 4.2"/>
<polyline points="835.68,2128.09 838.8,2128.83 841.91,2129.58 845.02,2130.34 848.14,2131.09 851.25,2131.86 854.36,2132.63 857.48,2133.41 860.59,2134.2 863.7,2134.99 866.82,2135.78 869.93,2136.59 873.04,2137.4 876.16,2138.22 879.27,2139.04 882.38,2139.88 885.5,2140.71 888.61,2141.56 891.72,2142.41 894.84,2143.27 897.95,2144.14 901.06,2145.02 904.18,2145.9 907.29,2146.79 910.4,2147.69 913.52,2148.6 916.63,2149.52 919.74,2150.44 922.86,2151.37 925.97,2152.31 929.08,2153.26 932.2,2154.22 935.31,2155.18 938.42,2156.16 941.54,2157.14 944.65,2158.13 947.76,2159.14 950.88,2160.15 953.99,2161.17 957.1,2162.2 960.22,2163.24 963.33,2164.29 966.44,2165.35 969.56,2166.42 972.67,2167.51 975.78,2168.6 978.9,2169.7 982.01,2170.81 985.12,2171.94 988.24,2173.07 991.35,2174.22 994.46,2175.38 997.58,2176.55 1000.69,2177.73 1003.81,2178.92 1006.92,2180.13 1010.03,2181.35 1013.15,2182.58 1016.26,2183.82 1019.37,2185.08 1022.49,2186.35 1025.6,2187.63 1028.71,2188.93 1031.83,2190.24 1034.94,2191.56 1038.05,2192.9 1041.17,2194.26 1044.28,2195.62 1047.39,2197.01 1050.51,2198.41 1053.62,2199.82 1056.73,2201.25 1059.85,2202.69 1062.96,2204.16 1066.07,2205.63 1069.19,2207.13 1072.3,2208.64 1075.41,2210.17 1078.53,2211.72 1081.64,2213.29 1084.75,2214.87 1087.87,2216.47 1090.98,2218.09 1094.09,2219.74 1097.21,2221.4 1100.32,2223.08 1103.43,2224.78 1106.55,2226.5 1109.66,2228.24 1112.77,2230.01 1115.89,2231.79 1119,2233.6 1122.11,2235.44 1125.23,2237.29 1128.34,2239.17 1131.45,2241.07 1134.57,2243 1137.68,2244.95 1140.79,2246.93 1143.91,2248.94 1147.02,2250.97 1150.13,2253.02 1153.25,2255.11 1156.36,2257.22 1159.47,2259.37 1162.59,2261.54 1165.7,2263.74 1168.81,2265.97 1171.93,2268.24 1175.04,2270.54 1178.15,2272.86 1181.27,2275.23 1184.38,2277.62 1187.5,2280.05 1190.61,2282.52 1193.72,2285.02 1196.84,2287.56 1199.95,2290.14 1203.06,2292.76 1206.18,2295.42 1209.29,2298.12 1212.4,2300.85 1215.52,2303.64 1218.63,2306.46 1221.74,2309.33 1224.86,2312.25 1227.97,2315.21 1231.08,2318.22 1234.2,2321.28 1237.31,2324.39 1240.42,2327.55 1243.54,2330.77 1246.65,2334.04 1249.76,2337.36 1252.88,2340.74 1255.99,2344.18 1259.1,2347.68 1262.22,2351.24 1265.33,2354.87 1268.44,2358.55 1271.56,2362.31 1274.67,2366.14 1277.78,2370.03 1280.9,2374 1284.01,2378.04 1287.12,2382.16 1290.24,2386.36 1293.35,2390.63 1296.46,2394.99 1299.58,2399.44 1302.69,2403.98 1305.8,2408.6 1308.92,2413.33 1312.03,2418.14 1315.14,2423.06 1318.26,2428.08 1321.37,2433.2 1324.48,2438.44 1327.6,2443.79 1330.71,2449.25 1333.82,2454.84 1336.94,2460.55 1340.05,2466.39 1343.16,2472.36 1346.28,2478.47 1349.39,2484.72 1352.5,2491.13 1355.62,2497.68 1358.73,2504.39" fill="none" stroke="#22820e" stroke-width="2.5" stroke-linejoin="round" stroke-linecap="square"/>
<polyline points="835.68,2065.49 838.8,2065.69 841.91,2065.9 845.02,2066.11 848.14,2066.32 851.25,2066.53 854.36,2066.75 857.48,2066.96 860.59,2067.18 863.7,2067.4 866.82,2067.62 869.93,2067.84 873.04,2068.06 876.16,2068.29 879.27,2068.52 882.38,2068.75 885.5,2068.98 888.61,2069.21 891.72,2069.45 894.84,2069.69 897.95,2069.93 901.06,2070.17 904.18,2070.42 907.29,2070.66 910.4,2070.91 913.52,2071.16 916.63,2071.41 919.74,2071.67 922.86,2071.93 925.97,2072.19 929.08,2072.45 932.2,2072.72 935.31,2072.98 938.42,2073.25 941.54,2073.52 944.65,2073.8 947.76,2074.08 950.88,2074.36 953.99,2074.64 957.1,2074.92 960.22,2075.21 963.33,2075.5 966.44,2075.8 969.56,2076.09 972.67,2076.39 975.78,2076.69 978.9,2077 982.01,2077.31 985.12,2077.62 988.24,2077.93 991.35,2078.25 994.46,2078.57 997.58,2078.89 1000.69,2079.22 1003.81,2079.55 1006.92,2079.88 1010.03,2080.22 1013.15,2080.56 1016.26,2080.9 1019.37,2081.25 1022.49,2081.6 1025.6,2081.96 1028.71,2082.32 1031.83,2082.68 1034.94,2083.04 1038.05,2083.42 1041.17,2083.79 1044.28,2084.17 1047.39,2084.55 1050.51,2084.94 1053.62,2085.33 1056.73,2085.72 1059.85,2086.12 1062.96,2086.53 1066.07,2086.94 1069.19,2087.35 1072.3,2087.77 1075.41,2088.19 1078.53,2088.62 1081.64,2089.05 1084.75,2089.49 1087.87,2089.93 1090.98,2090.38 1094.09,2090.84 1097.21,2091.3 1100.32,2091.76 1103.43,2092.23 1106.55,2092.71 1109.66,2093.19 1112.77,2093.68 1115.89,2094.17 1119,2094.67 1122.11,2095.18 1125.23,2095.69 1128.34,2096.21 1131.45,2096.74 1134.57,2097.27 1137.68,2097.81 1140.79,2098.36 1143.91,2098.91 1147.02,2099.48 1150.13,2100.04 1153.25,2100.62 1156.36,2101.21 1159.47,2101.8 1162.59,2102.4 1165.7,2103.01 1168.81,2103.63 1171.93,2104.25 1175.04,2104.89 1178.15,2105.53 1181.27,2106.19 1184.38,2106.85 1187.5,2107.52 1190.61,2108.2 1193.72,2108.9 1196.84,2109.6 1199.95,2110.31 1203.06,2111.04 1206.18,2111.77 1209.29,2112.52 1212.4,2113.27 1215.52,2114.04 1218.63,2114.83 1221.74,2115.62 1224.86,2116.43 1227.97,2117.25 1231.08,2118.08 1234.2,2118.92 1237.31,2119.78 1240.42,2120.66 1243.54,2121.55 1246.65,2122.45 1249.76,2123.37 1252.88,2124.31 1255.99,2125.26 1259.1,2126.23 1262.22,2127.21 1265.33,2128.21 1268.44,2129.23 1271.56,2130.27 1274.67,2131.33 1277.78,2132.41 1280.9,2133.51 1284.01,2134.62 1287.12,2135.76 1290.24,2136.92 1293.35,2138.11 1296.46,2139.31 1299.58,2140.54 1302.69,2141.8 1305.8,2143.08 1308.92,2144.38 1312.03,2145.72 1315.14,2147.08 1318.26,2148.46 1321.37,2149.88 1324.48,2151.33 1327.6,2152.81 1330.71,2154.32 1333.82,2155.87 1336.94,2157.45 1340.05,2159.06 1343.16,2160.71 1346.28,2162.4 1349.39,2164.13 1352.5,2165.9 1355.62,2167.72 1358.73,2169.57 1361.84,2171.47 1364.96,2173.42 1368.07,2175.42 1371.19,2177.47 1374.3,2179.57 1377.41,2181.73 1380.53,2183.94 1383.64,2186.22 1386.75,2188.55 1389.87,2190.95 1392.98,2193.42 1396.09,2195.95 1399.21,2198.56 1402.32,2201.25 1405.43,2204.01 1408.55,2206.86 1411.66,2209.79 1414.77,2212.82 1417.89,2215.94 1421,2219.16 1424.11,2222.48 1427.23,2225.91 1430.34,2229.46 1433.45,2233.13 1436.57,2236.93 1439.68,2240.86 1442.79,2244.93 1445.91,2249.15 1449.02,2253.53 1452.13,2258.08 1455.25,2262.8 1458.36,2267.71" fill="none" stroke="#0000ff" stroke-width="2.5" stroke-linejoin="round" stroke-linecap="square"/>
</g>
<rect x="827.8" y="1953" width="630.6" height="502.2" fill="none" stroke="#000" stroke-width="1.2"/>
<line x1="827.8" y1="2455.2" x2="827.8" y2="2459.7" stroke="#000" stroke-width="1.2"/>
<text transform="translate(818.53 2474.7) scale(0.9458 1)" font-size="14.1" fill="#000">0.0</text>
<line x1="906.62" y1="2455.2" x2="906.62" y2="2459.7" stroke="#000" stroke-width="1.2"/>
<text transform="translate(897.51 2474.7) scale(0.9360 1)" font-size="14.1" fill="#000">0.1</text>
<line x1="985.44" y1="2455.2" x2="985.44" y2="2459.7" stroke="#000" stroke-width="1.2"/>
<text transform="translate(976.38 2474.7) scale(0.9320 1)" font-size="14.1" fill="#000">0.2</text>
<line x1="1064.26" y1="2455.2" x2="1064.26" y2="2459.7" stroke="#000" stroke-width="1.2"/>
<text transform="translate(1055.08 2474.7) scale(0.9405 1)" font-size="14.1" fill="#000">0.3</text>
<line x1="1143.08" y1="2455.2" x2="1143.08" y2="2459.7" stroke="#000" stroke-width="1.2"/>
<text transform="translate(1133.75 2474.7) scale(0.9454 1)" font-size="14.1" fill="#000">0.4</text>
<line x1="1221.9" y1="2455.2" x2="1221.9" y2="2459.7" stroke="#000" stroke-width="1.2"/>
<text transform="translate(1212.76 2474.7) scale(0.9343 1)" font-size="14.1" fill="#000">0.5</text>
<line x1="1300.72" y1="2455.2" x2="1300.72" y2="2459.7" stroke="#000" stroke-width="1.2"/>
<text transform="translate(1291.43 2474.7) scale(0.9516 1)" font-size="14.1" fill="#000">0.6</text>
<line x1="1379.54" y1="2455.2" x2="1379.54" y2="2459.7" stroke="#000" stroke-width="1.2"/>
<text transform="translate(1370.39 2474.7) scale(0.9415 1)" font-size="14.1" fill="#000">0.7</text>
<line x1="1458.36" y1="2455.2" x2="1458.36" y2="2459.7" stroke="#000" stroke-width="1.2"/>
<text transform="translate(1449.1 2474.7) scale(0.9477 1)" font-size="14.1" fill="#000">0.8</text>
<line x1="823.3" y1="2371.3" x2="827.8" y2="2371.3" stroke="#000" stroke-width="1.2"/>
<text transform="translate(799.75 2376.1) scale(0.9360 1)" font-size="14.1" fill="#000">0.1</text>
<line x1="823.3" y1="2278.48" x2="827.8" y2="2278.48" stroke="#000" stroke-width="1.2"/>
<text transform="translate(799.84 2283.28) scale(0.9320 1)" font-size="14.1" fill="#000">0.2</text>
<line x1="823.3" y1="2185.65" x2="827.8" y2="2185.65" stroke="#000" stroke-width="1.2"/>
<text transform="translate(799.6 2190.45) scale(0.9405 1)" font-size="14.1" fill="#000">0.3</text>
<line x1="823.3" y1="2092.82" x2="827.8" y2="2092.82" stroke="#000" stroke-width="1.2"/>
<text transform="translate(799.31 2097.62) scale(0.9454 1)" font-size="14.1" fill="#000">0.4</text>
<line x1="823.3" y1="2000" x2="827.8" y2="2000" stroke="#000" stroke-width="1.2"/>
<text transform="translate(799.69 2004.8) scale(0.9343 1)" font-size="14.1" fill="#000">0.5</text>
<text transform="translate(1038.11 1944.1) scale(1.0569 1)" font-size="18.31" fill="#000">Decision Curve Analysis</text>
<text transform="translate(1063.87 2494.5) scale(1.0758 1)" font-size="15.7" fill="#000">Threshold probability</text>
<text transform="translate(791.1 2251.59) rotate(-90) scale(1.2712 1)" font-size="15.26" fill="#000">Net benefit</text>
<rect x="1317.4" y="2160.8" width="134.4" height="87.5" fill="#fff" stroke="#d0d0d0" stroke-width="1" rx="3" fill-opacity="0.8"/>
<line x1="1320.7" y1="2171.3" x2="1347.9" y2="2171.3" stroke="#000" stroke-width="2.5" stroke-dasharray="9.6 4.2"/>
<text transform="translate(1355.88 2175.9) scale(0.9548 1)" font-size="14.24" fill="#000">None</text>
<line x1="1320.7" y1="2192.3" x2="1347.9" y2="2192.3" stroke="#808080" stroke-width="2.5" stroke-dasharray="9.6 4.2"/>
<text transform="translate(1356.97 2196.9) scale(0.9604 1)" font-size="14.24" fill="#000">All</text>
<line x1="1320.7" y1="2213.5" x2="1347.9" y2="2213.5" stroke="#22820e" stroke-width="2.5"/>
<text transform="translate(1355.9 2218.1) scale(0.9416 1)" font-size="14.24" fill="#000">EUS Prediction</text>
<line x1="1320.7" y1="2234.4" x2="1347.9" y2="2234.4" stroke="#0000ff" stroke-width="2.5"/>
<text transform="translate(1356.97 2239) scale(0.9690 1)" font-size="14.24" fill="#000">AI Prediction</text>
<text transform="matrix(0.8767 0 0 0.8134 10.99 43.87)" font-family="Liberation Serif" font-size="100" fill="#000">a</text>
<text transform="matrix(0.8486 0 0 0.8321 740.5 58.69)" font-family="Liberation Serif" font-size="100" fill="#000">b</text>
<text transform="matrix(0.8587 0 0 0.8150 -2.27 650)" font-family="Liberation Serif" font-size="100" fill="#000">c</text>
<text transform="matrix(0.8790 0 0 0.8357 736.82 652.08)" font-family="Liberation Serif" font-size="100" fill="#000">d</text>
<text transform="matrix(0.8738 0 0 0.8150 15.35 1336.9)" font-family="Liberation Serif" font-size="100" fill="#000">e</text>
<text transform="matrix(1.1249 0 0 0.8223 758.44 1336.9)" font-family="Liberation Serif" font-size="100" fill="#000">f</text>
<text transform="matrix(0.8745 0 0 0.8166 14.84 1948.28)" font-family="Liberation Serif" font-size="100" fill="#000">g</text>
<text transform="matrix(0.8636 0 0 0.8345 764.86 1960)" font-family="Liberation Serif" font-size="100" fill="#000">h</text>
</svg>
</body></html>
